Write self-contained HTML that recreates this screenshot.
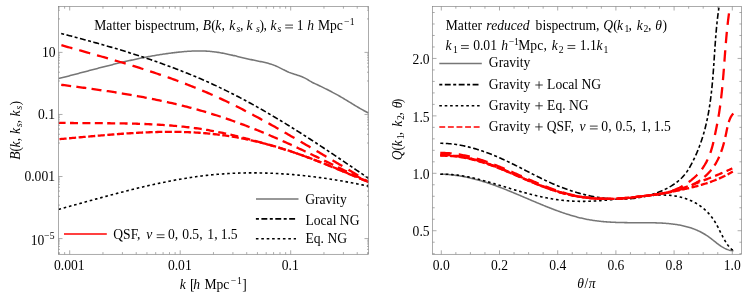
<!DOCTYPE html>
<html><head><meta charset="utf-8"><title>Bispectrum</title>
<style>html,body{margin:0;padding:0;background:#fff}body{width:747px;height:306px;overflow:hidden;font-family:"Liberation Serif",serif}</style></head>
<body>
<svg width="747" height="306" viewBox="0 0 747 306" style="display:block">
<rect width="747" height="306" fill="#fff"/>
<defs>
<clipPath id="cl"><rect x="58.5" y="6.5" width="310.0" height="247.8"/></clipPath>
<clipPath id="cr"><rect x="432.5" y="6.5" width="309.1" height="247.8"/></clipPath>
</defs>
<g clip-path="url(#cl)">
<path d="M58.50,78.60 L59.56,78.33 L60.62,78.06 L61.68,77.79 L62.74,77.52 L63.80,77.25 L64.86,76.98 L65.92,76.70 L66.97,76.43 L68.03,76.15 L69.09,75.88 L70.15,75.60 L71.21,75.33 L72.26,75.05 L73.32,74.77 L74.38,74.50 L75.44,74.22 L76.49,73.94 L77.55,73.66 L78.61,73.39 L79.66,73.11 L80.72,72.83 L81.78,72.55 L82.83,72.27 L83.89,71.99 L84.95,71.72 L86.00,71.44 L87.06,71.16 L88.11,70.88 L89.17,70.60 L90.23,70.33 L91.28,70.05 L92.34,69.77 L93.40,69.50 L94.45,69.22 L95.51,68.94 L96.57,68.67 L97.62,68.39 L98.68,68.12 L99.74,67.85 L100.80,67.58 L101.85,67.30 L102.91,67.03 L103.97,66.76 L105.02,66.49 L106.08,66.22 L107.14,65.96 L108.20,65.69 L109.26,65.42 L110.32,65.16 L111.37,64.89 L112.43,64.63 L113.49,64.37 L114.55,64.11 L115.61,63.85 L116.67,63.59 L117.73,63.33 L118.79,63.08 L119.85,62.83 L120.91,62.57 L121.98,62.32 L123.04,62.07 L124.10,61.82 L125.16,61.58 L126.22,61.33 L127.29,61.09 L128.35,60.85 L129.41,60.61 L130.48,60.37 L131.54,60.13 L132.61,59.90 L133.67,59.67 L134.74,59.44 L135.80,59.21 L136.87,58.98 L137.94,58.76 L139.01,58.53 L140.07,58.31 L141.14,58.09 L142.21,57.88 L143.28,57.66 L144.35,57.45 L145.42,57.24 L146.49,57.04 L147.56,56.83 L148.64,56.63 L149.71,56.43 L150.78,56.23 L151.85,56.04 L152.93,55.85 L154.00,55.66 L155.08,55.47 L156.16,55.29 L157.23,55.11 L158.31,54.93 L159.39,54.75 L160.47,54.58 L161.55,54.41 L162.63,54.24 L163.71,54.08 L164.79,53.92 L165.87,53.76 L166.95,53.61 L168.04,53.46 L169.12,53.31 L170.21,53.16 L171.29,53.02 L172.38,52.88 L173.46,52.75 L174.55,52.62 L175.64,52.49 L176.73,52.36 L177.82,52.24 L178.91,52.12 L180.00,52.01 L181.10,51.90 L182.19,51.80 L183.28,51.70 L184.38,51.60 L185.47,51.51 L186.57,51.43 L187.66,51.35 L188.76,51.28 L189.85,51.21 L190.94,51.15 L192.04,51.10 L193.13,51.05 L194.23,51.01 L195.32,50.98 L196.42,50.95 L197.51,50.94 L198.60,50.93 L199.69,50.93 L200.79,50.93 L201.88,50.95 L202.97,50.98 L204.06,51.01 L205.14,51.06 L206.23,51.11 L207.32,51.18 L208.40,51.25 L209.49,51.34 L210.57,51.44 L211.65,51.54 L212.73,51.66 L213.81,51.79 L214.89,51.93 L215.96,52.07 L217.04,52.23 L218.11,52.39 L219.19,52.57 L220.26,52.75 L221.33,52.93 L222.40,53.13 L223.47,53.33 L224.54,53.54 L225.61,53.75 L226.68,53.97 L227.75,54.19 L228.81,54.42 L229.88,54.66 L230.95,54.89 L232.01,55.13 L233.08,55.38 L234.14,55.62 L235.21,55.87 L236.27,56.12 L237.34,56.38 L238.40,56.63 L239.47,56.88 L240.53,57.14 L241.60,57.40 L242.66,57.65 L243.73,57.90 L244.79,58.16 L245.86,58.41 L246.92,58.66 L247.99,58.91 L249.06,59.15 L250.12,59.39 L251.19,59.63 L252.26,59.87 L253.33,60.10 L254.40,60.32 L255.47,60.55 L256.54,60.76 L257.61,60.98 L258.68,61.19 L259.75,61.41 L260.82,61.62 L261.89,61.85 L262.95,62.07 L264.01,62.31 L265.07,62.55 L266.13,62.80 L267.18,63.07 L268.23,63.35 L269.27,63.64 L270.31,63.96 L271.34,64.29 L272.37,64.63 L273.39,65.00 L274.41,65.39 L275.41,65.79 L276.41,66.21 L277.41,66.66 L278.39,67.12 L279.37,67.60 L280.35,68.08 L281.33,68.58 L282.30,69.07 L283.27,69.57 L284.25,70.06 L285.22,70.55 L286.21,71.02 L287.19,71.49 L288.19,71.93 L289.19,72.35 L290.20,72.74 L291.22,73.12 L292.25,73.48 L293.28,73.82 L294.31,74.16 L295.35,74.49 L296.38,74.82 L297.41,75.15 L298.44,75.49 L299.47,75.84 L300.49,76.20 L301.50,76.58 L302.50,76.99 L303.49,77.42 L304.46,77.88 L305.43,78.37 L306.38,78.90 L307.32,79.45 L308.25,80.01 L309.18,80.57 L310.12,81.14 L311.06,81.68 L312.01,82.21 L312.98,82.71 L313.95,83.20 L314.93,83.67 L315.91,84.13 L316.90,84.58 L317.89,85.03 L318.88,85.48 L319.87,85.94 L320.85,86.41 L321.83,86.88 L322.81,87.36 L323.78,87.84 L324.75,88.33 L325.73,88.82 L326.70,89.31 L327.67,89.81 L328.64,90.31 L329.61,90.81 L330.58,91.31 L331.55,91.81 L332.52,92.32 L333.49,92.83 L334.45,93.34 L335.42,93.85 L336.38,94.37 L337.34,94.90 L338.29,95.43 L339.24,95.97 L340.19,96.51 L341.14,97.06 L342.08,97.61 L343.02,98.17 L343.96,98.73 L344.89,99.29 L345.83,99.85 L346.76,100.42 L347.69,100.99 L348.62,101.56 L349.55,102.13 L350.48,102.70 L351.42,103.27 L352.35,103.84 L353.28,104.41 L354.21,104.98 L355.14,105.54 L356.08,106.11 L357.02,106.67 L357.96,107.22 L358.90,107.78 L359.84,108.33 L360.79,108.87 L361.74,109.41 L362.69,109.94 L363.65,110.47 L364.61,110.99 L365.58,111.51 L366.55,112.01 L367.52,112.51 L368.50,113.00" fill="none" stroke="#767676" stroke-width="1.55"/>
<path d="M58.50,209.40 L60.02,208.99 L61.54,208.57 L63.06,208.16 L64.58,207.74 L66.10,207.32 L67.62,206.90 L69.15,206.48 L70.67,206.06 L72.19,205.64 L73.71,205.22 L75.24,204.80 L76.76,204.38 L78.29,203.95 L79.81,203.53 L81.34,203.11 L82.86,202.68 L84.39,202.26 L85.91,201.84 L87.44,201.41 L88.97,200.99 L90.50,200.57 L92.02,200.15 L93.55,199.73 L95.08,199.31 L96.61,198.88 L98.14,198.47 L99.67,198.05 L101.20,197.63 L102.73,197.21 L104.27,196.80 L105.80,196.38 L107.33,195.97 L108.86,195.55 L110.40,195.14 L111.93,194.73 L113.47,194.33 L115.00,193.92 L116.54,193.51 L118.07,193.11 L119.61,192.71 L121.15,192.31 L122.69,191.91 L124.22,191.51 L125.76,191.12 L127.30,190.73 L128.84,190.34 L130.38,189.95 L131.92,189.57 L133.46,189.18 L135.00,188.80 L136.55,188.43 L138.09,188.05 L139.63,187.68 L141.18,187.31 L142.72,186.95 L144.27,186.58 L145.81,186.22 L147.36,185.87 L148.90,185.51 L150.45,185.16 L152.00,184.82 L153.55,184.47 L155.09,184.13 L156.64,183.80 L158.19,183.46 L159.74,183.13 L161.29,182.81 L162.84,182.49 L164.40,182.17 L165.95,181.86 L167.50,181.55 L169.06,181.25 L170.61,180.94 L172.16,180.65 L173.72,180.36 L175.27,180.07 L176.83,179.79 L178.39,179.51 L179.95,179.24 L181.50,178.97 L183.06,178.71 L184.62,178.45 L186.18,178.19 L187.74,177.95 L189.30,177.70 L190.86,177.47 L192.43,177.23 L193.99,177.01 L195.55,176.79 L197.12,176.57 L198.68,176.36 L200.25,176.16 L201.81,175.96 L203.38,175.76 L204.95,175.58 L206.52,175.40 L208.08,175.22 L209.65,175.06 L211.22,174.89 L212.79,174.74 L214.36,174.59 L215.94,174.45 L217.51,174.31 L219.08,174.18 L220.65,174.06 L222.23,173.94 L223.80,173.83 L225.38,173.72 L226.95,173.62 L228.53,173.53 L230.10,173.45 L231.68,173.37 L233.26,173.29 L234.84,173.22 L236.41,173.16 L237.99,173.10 L239.57,173.05 L241.15,173.01 L242.73,172.97 L244.31,172.94 L245.89,172.91 L247.47,172.89 L249.05,172.87 L250.63,172.87 L252.21,172.86 L253.79,172.86 L255.37,172.87 L256.95,172.88 L258.53,172.90 L260.12,172.93 L261.70,172.96 L263.28,172.99 L264.86,173.03 L266.44,173.08 L268.03,173.13 L269.61,173.18 L271.19,173.25 L272.77,173.31 L274.35,173.39 L275.93,173.46 L277.52,173.55 L279.10,173.64 L280.68,173.73 L282.26,173.83 L283.84,173.93 L285.42,174.04 L287.00,174.15 L288.58,174.27 L290.16,174.39 L291.74,174.52 L293.32,174.66 L294.90,174.79 L296.48,174.94 L298.06,175.08 L299.64,175.24 L301.22,175.39 L302.80,175.56 L304.37,175.72 L305.95,175.89 L307.53,176.07 L309.10,176.25 L310.68,176.44 L312.26,176.63 L313.83,176.82 L315.40,177.02 L316.98,177.22 L318.55,177.43 L320.12,177.64 L321.70,177.86 L323.27,178.08 L324.84,178.30 L326.41,178.53 L327.98,178.76 L329.55,179.00 L331.12,179.24 L332.68,179.49 L334.25,179.74 L335.82,179.99 L337.38,180.25 L338.95,180.51 L340.51,180.78 L342.07,181.05 L343.63,181.32 L345.20,181.60 L346.76,181.88 L348.32,182.16 L349.87,182.45 L351.43,182.75 L352.99,183.04 L354.54,183.34 L356.10,183.65 L357.65,183.95 L359.21,184.26 L360.76,184.58 L362.31,184.90 L363.86,185.22 L365.41,185.54 L366.95,185.87 L368.50,186.20" fill="none" stroke="#000" stroke-width="1.6" stroke-dasharray="2.6 2.8" stroke-dashoffset="0"/>
<path d="M61.20,33.50 L62.86,33.93 L64.52,34.36 L66.18,34.80 L67.84,35.23 L69.50,35.67 L71.16,36.10 L72.82,36.54 L74.48,36.98 L76.14,37.42 L77.80,37.87 L79.46,38.31 L81.12,38.76 L82.78,39.21 L84.44,39.66 L86.10,40.11 L87.76,40.57 L89.42,41.02 L91.07,41.48 L92.73,41.94 L94.39,42.40 L96.05,42.86 L97.70,43.33 L99.36,43.80 L101.02,44.27 L102.67,44.74 L104.33,45.22 L105.98,45.69 L107.63,46.17 L109.29,46.65 L110.94,47.14 L112.59,47.62 L114.24,48.11 L115.89,48.60 L117.54,49.10 L119.19,49.59 L120.84,50.09 L122.49,50.60 L124.13,51.10 L125.78,51.61 L127.42,52.12 L129.07,52.63 L130.71,53.15 L132.35,53.66 L133.99,54.19 L135.63,54.71 L137.27,55.24 L138.91,55.77 L140.55,56.30 L142.18,56.84 L143.82,57.38 L145.45,57.92 L147.08,58.47 L148.72,59.02 L150.35,59.58 L151.97,60.13 L153.60,60.69 L155.23,61.26 L156.85,61.82 L158.47,62.39 L160.10,62.97 L161.72,63.55 L163.34,64.13 L164.95,64.71 L166.57,65.30 L168.18,65.90 L169.80,66.49 L171.41,67.09 L173.02,67.70 L174.63,68.31 L176.23,68.92 L177.84,69.54 L179.44,70.16 L181.04,70.78 L182.64,71.41 L184.24,72.04 L185.83,72.68 L187.43,73.32 L189.02,73.97 L190.61,74.62 L192.20,75.27 L193.79,75.93 L195.37,76.60 L196.95,77.26 L198.53,77.94 L200.11,78.61 L201.69,79.30 L203.26,79.98 L204.83,80.67 L206.40,81.37 L207.97,82.07 L209.54,82.78 L211.10,83.49 L212.66,84.20 L214.22,84.92 L215.78,85.65 L217.33,86.38 L218.88,87.11 L220.43,87.85 L221.98,88.60 L223.53,89.35 L225.07,90.10 L226.61,90.86 L228.15,91.62 L229.69,92.39 L231.22,93.16 L232.76,93.93 L234.29,94.71 L235.82,95.50 L237.34,96.29 L238.87,97.08 L240.39,97.88 L241.91,98.68 L243.43,99.48 L244.95,100.29 L246.46,101.10 L247.97,101.92 L249.48,102.74 L250.99,103.56 L252.50,104.39 L254.00,105.22 L255.51,106.06 L257.01,106.90 L258.51,107.74 L260.01,108.58 L261.50,109.43 L263.00,110.28 L264.49,111.14 L265.98,112.00 L267.47,112.86 L268.95,113.72 L270.44,114.59 L271.92,115.46 L273.40,116.34 L274.89,117.22 L276.36,118.10 L277.84,118.98 L279.32,119.87 L280.79,120.75 L282.26,121.65 L283.73,122.54 L285.20,123.44 L286.67,124.34 L288.13,125.24 L289.60,126.14 L291.06,127.05 L292.52,127.96 L293.98,128.87 L295.44,129.78 L296.90,130.70 L298.35,131.62 L299.81,132.54 L301.26,133.46 L302.71,134.38 L304.17,135.31 L305.62,136.24 L307.06,137.17 L308.51,138.10 L309.96,139.03 L311.40,139.97 L312.85,140.91 L314.29,141.85 L315.73,142.79 L317.17,143.73 L318.61,144.67 L320.05,145.62 L321.49,146.57 L322.92,147.51 L324.36,148.46 L325.79,149.42 L327.23,150.37 L328.66,151.32 L330.09,152.27 L331.52,153.23 L332.95,154.19 L334.38,155.14 L335.81,156.10 L337.24,157.06 L338.66,158.02 L340.09,158.98 L341.52,159.95 L342.94,160.91 L344.37,161.87 L345.79,162.83 L347.21,163.80 L348.63,164.76 L350.06,165.73 L351.48,166.69 L352.90,167.66 L354.32,168.63 L355.74,169.59 L357.16,170.56 L358.58,171.53 L360.00,172.50 L361.41,173.46 L362.83,174.43 L364.25,175.40 L365.67,176.37 L367.08,177.33 L368.50,178.30" fill="none" stroke="#000" stroke-width="1.6" stroke-dasharray="3 2.5 5.9 2.5" stroke-dashoffset="0"/>
<path d="M58.50,139.20 L60.08,139.07 L61.66,138.94 L63.24,138.80 L64.82,138.67 L66.40,138.53 L67.98,138.39 L69.56,138.25 L71.15,138.11 L72.73,137.97 L74.32,137.83 L75.90,137.69 L77.49,137.54 L79.08,137.40 L80.67,137.26 L82.26,137.12 L83.85,136.97 L85.44,136.83 L87.03,136.69 L88.63,136.54 L90.22,136.40 L91.81,136.26 L93.41,136.12 L95.01,135.98 L96.60,135.84 L98.20,135.70 L99.80,135.56 L101.39,135.42 L102.99,135.28 L104.59,135.15 L106.19,135.01 L107.79,134.88 L109.39,134.75 L110.99,134.62 L112.59,134.49 L114.19,134.37 L115.79,134.24 L117.39,134.12 L119.00,134.00 L120.60,133.88 L122.20,133.77 L123.81,133.65 L125.41,133.54 L127.01,133.43 L128.62,133.33 L130.22,133.23 L131.82,133.12 L133.43,133.03 L135.03,132.93 L136.64,132.84 L138.24,132.75 L139.84,132.67 L141.45,132.59 L143.05,132.51 L144.66,132.44 L146.26,132.37 L147.87,132.30 L149.47,132.24 L151.07,132.18 L152.68,132.13 L154.28,132.08 L155.89,132.03 L157.49,131.99 L159.09,131.95 L160.70,131.92 L162.30,131.89 L163.90,131.87 L165.50,131.85 L167.11,131.84 L168.71,131.83 L170.31,131.83 L171.91,131.83 L173.51,131.84 L175.11,131.85 L176.71,131.87 L178.31,131.89 L179.91,131.92 L181.51,131.96 L183.11,132.00 L184.70,132.05 L186.30,132.11 L187.90,132.17 L189.49,132.23 L191.09,132.31 L192.68,132.39 L194.28,132.47 L195.87,132.57 L197.46,132.67 L199.06,132.77 L200.65,132.89 L202.24,133.01 L203.83,133.14 L205.42,133.27 L207.00,133.42 L208.59,133.57 L210.18,133.72 L211.76,133.89 L213.35,134.06 L214.93,134.24 L216.51,134.43 L218.10,134.62 L219.68,134.82 L221.26,135.03 L222.84,135.24 L224.41,135.46 L225.99,135.69 L227.57,135.93 L229.14,136.17 L230.72,136.42 L232.29,136.68 L233.86,136.94 L235.43,137.21 L237.00,137.49 L238.57,137.78 L240.14,138.07 L241.70,138.37 L243.27,138.67 L244.83,138.99 L246.39,139.31 L247.95,139.63 L249.51,139.97 L251.07,140.31 L252.63,140.65 L254.19,141.01 L255.74,141.37 L257.29,141.74 L258.84,142.11 L260.39,142.49 L261.94,142.88 L263.49,143.28 L265.04,143.68 L266.58,144.08 L268.12,144.50 L269.67,144.92 L271.21,145.35 L272.74,145.78 L274.28,146.22 L275.82,146.67 L277.35,147.12 L278.88,147.58 L280.41,148.05 L281.94,148.52 L283.47,149.00 L285.00,149.48 L286.52,149.97 L288.05,150.46 L289.57,150.96 L291.09,151.46 L292.61,151.97 L294.13,152.48 L295.64,153.00 L297.16,153.52 L298.67,154.05 L300.19,154.58 L301.70,155.12 L303.21,155.66 L304.72,156.21 L306.23,156.75 L307.73,157.31 L309.24,157.86 L310.74,158.42 L312.24,158.99 L313.74,159.56 L315.24,160.13 L316.74,160.70 L318.24,161.28 L319.74,161.86 L321.23,162.44 L322.73,163.03 L324.22,163.62 L325.71,164.21 L327.20,164.80 L328.69,165.40 L330.18,166.00 L331.67,166.60 L333.15,167.20 L334.64,167.81 L336.12,168.41 L337.60,169.02 L339.08,169.63 L340.56,170.24 L342.04,170.86 L343.52,171.47 L345.00,172.09 L346.48,172.70 L347.95,173.32 L349.42,173.94 L350.90,174.56 L352.37,175.18 L353.84,175.80 L355.31,176.42 L356.78,177.04 L358.25,177.66 L359.71,178.28 L361.18,178.90 L362.65,179.52 L364.11,180.14 L365.57,180.76 L367.04,181.38 L368.50,182.00" fill="none" stroke="#ff0000" stroke-width="2.3" stroke-dasharray="7.1 2.5" stroke-dashoffset="-1"/>
<path d="M58.50,122.80 L60.10,122.83 L61.69,122.86 L63.29,122.89 L64.89,122.91 L66.49,122.94 L68.09,122.96 L69.69,122.98 L71.29,123.00 L72.89,123.02 L74.49,123.03 L76.09,123.05 L77.69,123.06 L79.30,123.08 L80.90,123.09 L82.50,123.10 L84.10,123.11 L85.71,123.12 L87.31,123.13 L88.92,123.14 L90.52,123.15 L92.12,123.16 L93.73,123.17 L95.33,123.18 L96.94,123.18 L98.54,123.19 L100.15,123.20 L101.75,123.21 L103.36,123.22 L104.97,123.24 L106.57,123.25 L108.18,123.26 L109.78,123.27 L111.39,123.29 L112.99,123.30 L114.60,123.32 L116.21,123.34 L117.81,123.36 L119.42,123.38 L121.02,123.41 L122.63,123.43 L124.23,123.46 L125.84,123.49 L127.44,123.52 L129.05,123.55 L130.65,123.59 L132.26,123.62 L133.86,123.66 L135.47,123.71 L137.07,123.75 L138.68,123.80 L140.28,123.85 L141.88,123.91 L143.48,123.96 L145.09,124.02 L146.69,124.09 L148.29,124.16 L149.89,124.23 L151.49,124.30 L153.10,124.38 L154.70,124.46 L156.30,124.55 L157.90,124.64 L159.49,124.73 L161.09,124.83 L162.69,124.93 L164.29,125.04 L165.89,125.15 L167.48,125.26 L169.08,125.38 L170.67,125.51 L172.27,125.64 L173.86,125.78 L175.46,125.92 L177.05,126.06 L178.64,126.21 L180.23,126.37 L181.83,126.53 L183.42,126.70 L185.00,126.87 L186.59,127.05 L188.18,127.24 L189.77,127.43 L191.36,127.63 L192.94,127.83 L194.53,128.04 L196.11,128.26 L197.69,128.48 L199.28,128.71 L200.86,128.94 L202.44,129.19 L204.02,129.44 L205.60,129.70 L207.17,129.96 L208.75,130.23 L210.33,130.51 L211.90,130.80 L213.48,131.09 L215.05,131.39 L216.62,131.70 L218.19,132.01 L219.76,132.33 L221.33,132.65 L222.90,132.98 L224.47,133.32 L226.03,133.66 L227.60,134.01 L229.16,134.37 L230.73,134.73 L232.29,135.09 L233.85,135.46 L235.41,135.83 L236.97,136.21 L238.53,136.60 L240.09,136.98 L241.65,137.37 L243.21,137.77 L244.76,138.17 L246.32,138.57 L247.87,138.98 L249.43,139.39 L250.98,139.80 L252.53,140.22 L254.08,140.64 L255.63,141.06 L257.18,141.49 L258.73,141.91 L260.28,142.34 L261.82,142.78 L263.37,143.21 L264.92,143.65 L266.46,144.08 L268.00,144.52 L269.55,144.97 L271.09,145.41 L272.63,145.85 L274.17,146.30 L275.71,146.75 L277.25,147.20 L278.78,147.66 L280.32,148.12 L281.85,148.59 L283.38,149.06 L284.91,149.53 L286.44,150.01 L287.96,150.50 L289.49,150.99 L291.01,151.49 L292.53,151.99 L294.04,152.50 L295.56,153.02 L297.07,153.54 L298.58,154.07 L300.09,154.60 L301.60,155.14 L303.10,155.68 L304.61,156.23 L306.11,156.78 L307.61,157.34 L309.11,157.90 L310.60,158.46 L312.10,159.03 L313.60,159.60 L315.09,160.18 L316.58,160.76 L318.07,161.34 L319.56,161.93 L321.05,162.52 L322.54,163.11 L324.03,163.71 L325.51,164.30 L327.00,164.90 L328.48,165.50 L329.97,166.11 L331.45,166.71 L332.93,167.32 L334.41,167.93 L335.90,168.54 L337.38,169.15 L338.86,169.77 L340.34,170.38 L341.82,170.99 L343.30,171.61 L344.78,172.23 L346.26,172.84 L347.74,173.46 L349.22,174.07 L350.70,174.69 L352.18,175.30 L353.66,175.92 L355.14,176.53 L356.63,177.15 L358.11,177.76 L359.59,178.37 L361.07,178.98 L362.56,179.59 L364.04,180.19 L365.53,180.80 L367.01,181.40 L368.50,182.00" fill="none" stroke="#ff0000" stroke-width="2.3" stroke-dasharray="8 4.4" stroke-dashoffset="0.9"/>
<path d="M61.20,84.80 L62.81,85.01 L64.43,85.21 L66.04,85.42 L67.66,85.63 L69.28,85.84 L70.89,86.04 L72.51,86.25 L74.13,86.47 L75.74,86.68 L77.36,86.89 L78.98,87.11 L80.59,87.32 L82.21,87.54 L83.83,87.76 L85.45,87.98 L87.06,88.20 L88.68,88.42 L90.30,88.65 L91.91,88.87 L93.53,89.10 L95.15,89.33 L96.77,89.56 L98.38,89.79 L100.00,90.03 L101.62,90.27 L103.23,90.50 L104.85,90.74 L106.46,90.99 L108.08,91.23 L109.70,91.48 L111.31,91.73 L112.93,91.98 L114.54,92.23 L116.15,92.49 L117.77,92.74 L119.38,93.00 L121.00,93.27 L122.61,93.53 L124.22,93.80 L125.83,94.07 L127.44,94.34 L129.05,94.62 L130.66,94.90 L132.27,95.18 L133.88,95.46 L135.49,95.75 L137.10,96.04 L138.71,96.33 L140.31,96.63 L141.92,96.93 L143.52,97.23 L145.13,97.53 L146.73,97.84 L148.33,98.15 L149.94,98.47 L151.54,98.78 L153.14,99.10 L154.74,99.43 L156.34,99.76 L157.93,100.09 L159.53,100.42 L161.13,100.76 L162.72,101.11 L164.32,101.45 L165.91,101.80 L167.50,102.16 L169.09,102.51 L170.68,102.88 L172.27,103.24 L173.86,103.61 L175.45,103.98 L177.03,104.36 L178.62,104.74 L180.20,105.13 L181.78,105.52 L183.37,105.92 L184.95,106.31 L186.52,106.72 L188.10,107.13 L189.68,107.54 L191.25,107.95 L192.82,108.38 L194.40,108.80 L195.97,109.23 L197.54,109.67 L199.10,110.11 L200.67,110.55 L202.24,111.00 L203.80,111.46 L205.36,111.92 L206.92,112.38 L208.48,112.85 L210.04,113.33 L211.59,113.80 L213.15,114.29 L214.70,114.78 L216.25,115.27 L217.80,115.77 L219.35,116.28 L220.90,116.78 L222.44,117.30 L223.99,117.82 L225.53,118.34 L227.07,118.87 L228.61,119.40 L230.15,119.93 L231.68,120.47 L233.22,121.02 L234.75,121.57 L236.28,122.12 L237.81,122.68 L239.34,123.24 L240.87,123.81 L242.40,124.38 L243.92,124.95 L245.45,125.53 L246.97,126.11 L248.49,126.70 L250.01,127.29 L251.53,127.88 L253.04,128.48 L254.56,129.08 L256.07,129.69 L257.58,130.30 L259.10,130.91 L260.61,131.53 L262.11,132.15 L263.62,132.77 L265.13,133.40 L266.63,134.03 L268.14,134.67 L269.64,135.30 L271.14,135.95 L272.64,136.59 L274.14,137.24 L275.63,137.89 L277.13,138.54 L278.62,139.20 L280.12,139.86 L281.61,140.52 L283.10,141.19 L284.59,141.86 L286.08,142.53 L287.57,143.20 L289.05,143.88 L290.54,144.56 L292.02,145.24 L293.51,145.92 L294.99,146.61 L296.47,147.30 L297.95,147.99 L299.43,148.68 L300.91,149.37 L302.39,150.07 L303.87,150.77 L305.34,151.46 L306.82,152.17 L308.30,152.87 L309.77,153.57 L311.24,154.28 L312.72,154.98 L314.19,155.69 L315.66,156.40 L317.13,157.11 L318.61,157.82 L320.08,158.53 L321.55,159.24 L323.02,159.96 L324.49,160.67 L325.95,161.38 L327.42,162.10 L328.89,162.81 L330.36,163.53 L331.83,164.25 L333.29,164.96 L334.76,165.68 L336.23,166.39 L337.69,167.11 L339.16,167.83 L340.63,168.54 L342.09,169.26 L343.56,169.97 L345.03,170.69 L346.49,171.40 L347.96,172.12 L349.42,172.83 L350.89,173.54 L352.36,174.25 L353.82,174.96 L355.29,175.67 L356.76,176.38 L358.22,177.09 L359.69,177.79 L361.16,178.50 L362.63,179.20 L364.09,179.90 L365.56,180.60 L367.03,181.30 L368.50,182.00" fill="none" stroke="#ff0000" stroke-width="2.3" stroke-dasharray="10 5.3" stroke-dashoffset="0"/>
<path d="M61.40,45.20 L63.03,45.66 L64.66,46.12 L66.29,46.58 L67.92,47.04 L69.55,47.49 L71.18,47.95 L72.81,48.41 L74.44,48.87 L76.08,49.33 L77.71,49.79 L79.34,50.25 L80.97,50.71 L82.61,51.17 L84.24,51.63 L85.87,52.09 L87.51,52.55 L89.14,53.01 L90.78,53.47 L92.41,53.94 L94.04,54.40 L95.68,54.87 L97.31,55.33 L98.95,55.80 L100.58,56.27 L102.21,56.74 L103.85,57.21 L105.48,57.68 L107.11,58.15 L108.75,58.62 L110.38,59.10 L112.01,59.58 L113.64,60.06 L115.27,60.54 L116.90,61.02 L118.53,61.50 L120.16,61.99 L121.79,62.47 L123.42,62.96 L125.05,63.45 L126.68,63.94 L128.31,64.44 L129.93,64.94 L131.56,65.44 L133.18,65.94 L134.81,66.44 L136.43,66.95 L138.05,67.45 L139.68,67.96 L141.30,68.48 L142.92,68.99 L144.54,69.51 L146.16,70.03 L147.77,70.56 L149.39,71.08 L151.00,71.61 L152.62,72.15 L154.23,72.68 L155.84,73.22 L157.45,73.76 L159.06,74.31 L160.67,74.85 L162.28,75.41 L163.89,75.96 L165.49,76.52 L167.09,77.08 L168.69,77.65 L170.29,78.21 L171.89,78.79 L173.49,79.36 L175.09,79.94 L176.68,80.53 L178.27,81.11 L179.87,81.71 L181.45,82.30 L183.04,82.90 L184.63,83.50 L186.21,84.11 L187.80,84.72 L189.38,85.34 L190.96,85.96 L192.53,86.59 L194.11,87.22 L195.68,87.85 L197.25,88.49 L198.82,89.13 L200.39,89.78 L201.96,90.43 L203.52,91.09 L205.08,91.75 L206.64,92.42 L208.20,93.09 L209.75,93.77 L211.31,94.45 L212.86,95.14 L214.41,95.83 L215.95,96.53 L217.50,97.23 L219.04,97.94 L220.58,98.66 L222.12,99.37 L223.65,100.10 L225.19,100.82 L226.72,101.56 L228.25,102.29 L229.77,103.03 L231.30,103.78 L232.82,104.53 L234.35,105.28 L235.87,106.04 L237.38,106.80 L238.90,107.56 L240.42,108.33 L241.93,109.10 L243.44,109.88 L244.95,110.66 L246.46,111.44 L247.96,112.23 L249.47,113.02 L250.97,113.81 L252.47,114.61 L253.97,115.41 L255.47,116.21 L256.97,117.01 L258.47,117.82 L259.96,118.63 L261.45,119.44 L262.95,120.26 L264.44,121.08 L265.93,121.90 L267.41,122.72 L268.90,123.55 L270.39,124.37 L271.87,125.20 L273.36,126.03 L274.84,126.87 L276.32,127.70 L277.80,128.54 L279.28,129.37 L280.76,130.21 L282.23,131.05 L283.71,131.90 L285.19,132.74 L286.66,133.58 L288.14,134.43 L289.61,135.28 L291.08,136.13 L292.55,136.97 L294.02,137.82 L295.49,138.67 L296.96,139.52 L298.43,140.38 L299.90,141.23 L301.37,142.08 L302.84,142.94 L304.30,143.79 L305.77,144.65 L307.24,145.50 L308.70,146.36 L310.17,147.21 L311.63,148.07 L313.10,148.93 L314.56,149.78 L316.03,150.64 L317.49,151.50 L318.95,152.36 L320.42,153.22 L321.88,154.07 L323.35,154.93 L324.81,155.79 L326.28,156.65 L327.74,157.51 L329.20,158.37 L330.67,159.22 L332.13,160.08 L333.60,160.94 L335.06,161.80 L336.52,162.66 L337.99,163.52 L339.45,164.39 L340.91,165.25 L342.38,166.11 L343.84,166.98 L345.30,167.85 L346.76,168.71 L348.22,169.58 L349.67,170.46 L351.13,171.33 L352.59,172.20 L354.04,173.08 L355.49,173.96 L356.94,174.84 L358.39,175.73 L359.84,176.61 L361.29,177.50 L362.74,178.40 L364.18,179.29 L365.62,180.19 L367.06,181.09 L368.50,182.00" fill="none" stroke="#ff0000" stroke-width="2.3" stroke-dasharray="11.4 7.1" stroke-dashoffset="0"/>
</g>
<g clip-path="url(#cr)">
<path d="M440.30,174.20 L441.36,174.22 L442.41,174.25 L443.46,174.28 L444.51,174.33 L445.56,174.38 L446.60,174.44 L447.64,174.51 L448.68,174.59 L449.72,174.68 L450.75,174.77 L451.78,174.87 L452.81,174.98 L453.84,175.10 L454.86,175.23 L455.89,175.36 L456.91,175.50 L457.92,175.65 L458.94,175.80 L459.95,175.96 L460.97,176.13 L461.98,176.30 L462.98,176.49 L463.99,176.68 L465.00,176.87 L466.00,177.07 L467.00,177.28 L468.00,177.49 L468.99,177.71 L469.99,177.94 L470.98,178.17 L471.97,178.41 L472.97,178.65 L473.95,178.90 L474.94,179.16 L475.93,179.42 L476.91,179.68 L477.89,179.96 L478.87,180.23 L479.85,180.51 L480.83,180.80 L481.81,181.09 L482.79,181.39 L483.76,181.69 L484.73,181.99 L485.71,182.30 L486.68,182.61 L487.65,182.93 L488.61,183.25 L489.58,183.58 L490.55,183.91 L491.51,184.24 L492.48,184.58 L493.44,184.92 L494.41,185.27 L495.37,185.62 L496.33,185.97 L497.29,186.32 L498.25,186.68 L499.21,187.04 L500.17,187.41 L501.12,187.77 L502.08,188.14 L503.04,188.52 L503.99,188.89 L504.95,189.27 L505.90,189.65 L506.86,190.03 L507.81,190.42 L508.76,190.80 L509.72,191.19 L510.67,191.58 L511.62,191.97 L512.57,192.37 L513.52,192.76 L514.48,193.16 L515.43,193.55 L516.38,193.95 L517.33,194.35 L518.28,194.76 L519.23,195.16 L520.18,195.56 L521.13,195.97 L522.08,196.37 L523.04,196.78 L523.99,197.18 L524.94,197.59 L525.89,197.99 L526.84,198.40 L527.80,198.81 L528.75,199.21 L529.70,199.62 L530.65,200.03 L531.61,200.43 L532.56,200.84 L533.52,201.24 L534.47,201.65 L535.43,202.05 L536.38,202.45 L537.34,202.85 L538.30,203.25 L539.26,203.65 L540.21,204.05 L541.17,204.45 L542.13,204.84 L543.10,205.24 L544.06,205.63 L545.02,206.02 L545.98,206.41 L546.95,206.80 L547.91,207.18 L548.88,207.56 L549.85,207.94 L550.82,208.32 L551.78,208.70 L552.76,209.07 L553.73,209.44 L554.70,209.81 L555.67,210.17 L556.64,210.53 L557.62,210.89 L558.59,211.24 L559.57,211.59 L560.55,211.94 L561.53,212.28 L562.51,212.62 L563.49,212.95 L564.47,213.28 L565.45,213.61 L566.43,213.93 L567.42,214.25 L568.40,214.56 L569.38,214.86 L570.37,215.17 L571.36,215.46 L572.35,215.75 L573.33,216.04 L574.32,216.32 L575.31,216.59 L576.31,216.86 L577.30,217.13 L578.29,217.38 L579.28,217.63 L580.28,217.88 L581.28,218.11 L582.27,218.34 L583.27,218.57 L584.27,218.79 L585.27,219.00 L586.26,219.20 L587.27,219.40 L588.27,219.59 L589.27,219.77 L590.27,219.94 L591.28,220.11 L592.28,220.27 L593.28,220.42 L594.29,220.57 L595.30,220.71 L596.31,220.84 L597.31,220.97 L598.32,221.09 L599.33,221.21 L600.34,221.32 L601.36,221.42 L602.37,221.52 L603.38,221.61 L604.40,221.70 L605.41,221.78 L606.43,221.86 L607.44,221.94 L608.46,222.00 L609.48,222.07 L610.50,222.13 L611.52,222.19 L612.54,222.24 L613.56,222.29 L614.58,222.33 L615.60,222.37 L616.63,222.41 L617.65,222.45 L618.68,222.48 L619.70,222.51 L620.73,222.53 L621.76,222.56 L622.78,222.58 L623.81,222.59 L624.84,222.61 L625.87,222.63 L626.90,222.64 L627.94,222.65 L628.97,222.66 L630.00,222.67 L631.04,222.67 L632.07,222.68 L633.11,222.68 L634.14,222.69 L635.18,222.69 L636.22,222.69 L637.26,222.69 L638.30,222.70 L639.34,222.70 L640.38,222.70 L641.42,222.70 L642.46,222.71 L643.51,222.71 L644.55,222.71 L645.60,222.72 L646.64,222.72 L647.69,222.73 L648.73,222.74 L649.78,222.75 L650.82,222.77 L651.87,222.78 L652.92,222.80 L653.96,222.82 L655.01,222.85 L656.05,222.88 L657.10,222.91 L658.14,222.94 L659.18,222.99 L660.22,223.03 L661.26,223.08 L662.30,223.14 L663.34,223.20 L664.38,223.26 L665.41,223.34 L666.45,223.41 L667.48,223.50 L668.51,223.59 L669.53,223.69 L670.56,223.79 L671.58,223.91 L672.61,224.03 L673.62,224.15 L674.64,224.29 L675.66,224.44 L676.67,224.59 L677.67,224.75 L678.68,224.92 L679.68,225.10 L680.68,225.29 L681.68,225.50 L682.67,225.71 L683.66,225.93 L684.64,226.16 L685.63,226.40 L686.60,226.66 L687.58,226.92 L688.55,227.20 L689.51,227.49 L690.47,227.79 L691.43,228.11 L692.38,228.44 L693.33,228.78 L694.27,229.13 L695.21,229.50 L696.15,229.88 L697.07,230.27 L698.00,230.68 L698.92,231.11 L699.83,231.55 L700.74,232.00 L701.64,232.47 L702.53,232.95 L703.42,233.45 L704.31,233.97 L705.18,234.50 L706.06,235.05 L706.92,235.62 L707.78,236.21 L708.63,236.81 L709.48,237.42 L710.32,238.06 L711.16,238.70 L711.99,239.35 L712.82,240.00 L713.65,240.66 L714.49,241.32 L715.32,241.98 L716.15,242.63 L716.98,243.28 L717.82,243.92 L718.66,244.54 L719.51,245.15 L720.37,245.74 L721.23,246.32 L722.10,246.87 L722.98,247.39 L723.86,247.89 L724.76,248.36 L725.67,248.79 L726.60,249.20 L727.53,249.56 L728.49,249.88 L729.45,250.16 L730.44,250.40 L731.44,250.58 L732.46,250.72 L733.50,250.80" fill="none" stroke="#767676" stroke-width="1.55"/>
<path d="M440.30,174.20 L441.40,174.18 L442.50,174.17 L443.60,174.18 L444.70,174.19 L445.79,174.22 L446.88,174.25 L447.97,174.30 L449.05,174.35 L450.13,174.42 L451.21,174.50 L452.29,174.58 L453.37,174.68 L454.44,174.78 L455.51,174.89 L456.58,175.02 L457.64,175.15 L458.71,175.29 L459.77,175.43 L460.83,175.59 L461.89,175.75 L462.94,175.93 L464.00,176.10 L465.05,176.29 L466.10,176.48 L467.15,176.68 L468.20,176.89 L469.24,177.10 L470.29,177.32 L471.33,177.55 L472.38,177.78 L473.42,178.01 L474.46,178.26 L475.50,178.50 L476.53,178.76 L477.57,179.01 L478.61,179.28 L479.64,179.54 L480.68,179.81 L481.71,180.09 L482.75,180.37 L483.78,180.65 L484.81,180.94 L485.84,181.22 L486.87,181.52 L487.90,181.81 L488.94,182.11 L489.97,182.41 L491.00,182.72 L492.03,183.02 L493.06,183.33 L494.09,183.64 L495.12,183.95 L496.15,184.26 L497.18,184.57 L498.21,184.89 L499.24,185.20 L500.27,185.52 L501.30,185.83 L502.33,186.15 L503.37,186.46 L504.40,186.78 L505.44,187.09 L506.47,187.41 L507.51,187.72 L508.54,188.03 L509.58,188.35 L510.62,188.66 L511.65,188.97 L512.69,189.28 L513.73,189.58 L514.77,189.89 L515.81,190.19 L516.86,190.50 L517.90,190.80 L518.94,191.10 L519.98,191.39 L521.03,191.69 L522.07,191.98 L523.12,192.27 L524.16,192.56 L525.21,192.84 L526.26,193.12 L527.30,193.40 L528.35,193.68 L529.40,193.95 L530.45,194.22 L531.50,194.49 L532.55,194.76 L533.60,195.02 L534.65,195.27 L535.70,195.52 L536.76,195.77 L537.81,196.02 L538.86,196.26 L539.92,196.50 L540.97,196.73 L542.03,196.96 L543.08,197.18 L544.14,197.40 L545.20,197.61 L546.25,197.82 L547.31,198.03 L548.37,198.23 L549.43,198.42 L550.49,198.61 L551.55,198.79 L552.61,198.97 L553.67,199.14 L554.73,199.31 L555.79,199.47 L556.85,199.62 L557.92,199.77 L558.98,199.91 L560.04,200.05 L561.11,200.18 L562.17,200.30 L563.23,200.41 L564.30,200.52 L565.36,200.63 L566.43,200.72 L567.50,200.81 L568.56,200.89 L569.63,200.96 L570.70,201.03 L571.77,201.09 L572.83,201.14 L573.90,201.19 L574.97,201.23 L576.04,201.27 L577.11,201.30 L578.18,201.32 L579.25,201.33 L580.32,201.34 L581.39,201.35 L582.46,201.35 L583.53,201.34 L584.60,201.33 L585.68,201.32 L586.75,201.29 L587.82,201.27 L588.89,201.24 L589.97,201.20 L591.04,201.16 L592.11,201.12 L593.18,201.07 L594.26,201.01 L595.33,200.96 L596.41,200.90 L597.48,200.83 L598.56,200.76 L599.63,200.69 L600.70,200.61 L601.78,200.54 L602.85,200.45 L603.93,200.37 L605.00,200.28 L606.08,200.19 L607.16,200.10 L608.23,200.00 L609.31,199.90 L610.38,199.80 L611.46,199.70 L612.53,199.59 L613.61,199.49 L614.69,199.38 L615.76,199.27 L616.84,199.16 L617.91,199.04 L618.99,198.93 L620.07,198.81 L621.14,198.70 L622.22,198.58 L623.29,198.46 L624.37,198.34 L625.45,198.22 L626.52,198.10 L627.60,197.98 L628.68,197.86 L629.75,197.74 L630.83,197.62 L631.90,197.50 L632.98,197.37 L634.05,197.25 L635.13,197.13 L636.20,197.02 L637.28,196.90 L638.36,196.78 L639.43,196.66 L640.51,196.55 L641.58,196.44 L642.65,196.32 L643.73,196.21 L644.80,196.10 L645.88,196.00 L646.95,195.89 L648.02,195.79 L649.10,195.70 L650.17,195.60 L651.24,195.52 L652.32,195.43 L653.39,195.36 L654.46,195.29 L655.53,195.23 L656.60,195.17 L657.67,195.13 L658.74,195.09 L659.81,195.06 L660.88,195.05 L661.95,195.04 L663.02,195.04 L664.09,195.06 L665.16,195.08 L666.22,195.12 L667.29,195.17 L668.36,195.24 L669.42,195.32 L670.49,195.41 L671.55,195.52 L672.61,195.65 L673.68,195.79 L674.74,195.95 L675.80,196.12 L676.86,196.31 L677.92,196.52 L678.98,196.75 L680.03,197.00 L681.08,197.26 L682.12,197.54 L683.17,197.84 L684.20,198.15 L685.24,198.48 L686.26,198.83 L687.28,199.20 L688.29,199.59 L689.30,199.99 L690.30,200.41 L691.29,200.85 L692.27,201.31 L693.24,201.79 L694.20,202.28 L695.15,202.79 L696.09,203.32 L697.02,203.87 L697.94,204.44 L698.84,205.02 L699.74,205.62 L700.62,206.25 L701.48,206.89 L702.33,207.54 L703.17,208.22 L704.00,208.91 L704.81,209.62 L705.60,210.34 L706.38,211.08 L707.15,211.84 L707.90,212.61 L708.63,213.40 L709.35,214.20 L710.05,215.01 L710.74,215.84 L711.41,216.69 L712.06,217.54 L712.70,218.41 L713.31,219.30 L713.91,220.19 L714.50,221.10 L715.06,222.02 L715.62,222.95 L716.16,223.89 L716.68,224.83 L717.20,225.78 L717.71,226.74 L718.21,227.71 L718.70,228.67 L719.19,229.64 L719.68,230.62 L720.16,231.59 L720.64,232.56 L721.13,233.53 L721.62,234.50 L722.11,235.46 L722.60,236.42 L723.10,237.37 L723.61,238.32 L724.13,239.26 L724.66,240.19 L725.21,241.11 L725.76,242.02 L726.34,242.91 L726.92,243.80 L727.53,244.67 L728.16,245.52 L728.81,246.35 L729.48,247.16 L730.20,247.94 L730.95,248.67 L731.75,249.37 L732.60,250.01 L733.50,250.60" fill="none" stroke="#000" stroke-width="1.6" stroke-dasharray="2.6 2.8" stroke-dashoffset="0"/>
<path d="M440.30,143.30 L441.77,143.31 L443.23,143.35 L444.69,143.40 L446.15,143.47 L447.61,143.57 L449.06,143.68 L450.51,143.81 L451.96,143.96 L453.40,144.13 L454.85,144.32 L456.29,144.52 L457.72,144.74 L459.16,144.98 L460.59,145.24 L462.01,145.51 L463.44,145.80 L464.86,146.10 L466.28,146.42 L467.70,146.75 L469.11,147.10 L470.52,147.46 L471.93,147.84 L473.33,148.23 L474.73,148.63 L476.13,149.04 L477.52,149.47 L478.91,149.91 L480.30,150.36 L481.69,150.83 L483.07,151.30 L484.45,151.79 L485.82,152.29 L487.19,152.79 L488.56,153.31 L489.93,153.84 L491.29,154.37 L492.65,154.92 L494.01,155.47 L495.36,156.03 L496.71,156.60 L498.05,157.17 L499.39,157.76 L500.73,158.35 L502.07,158.95 L503.40,159.55 L504.73,160.16 L506.05,160.77 L507.38,161.39 L508.69,162.02 L510.01,162.65 L511.32,163.28 L512.63,163.92 L513.93,164.56 L515.23,165.20 L516.53,165.85 L517.82,166.50 L519.11,167.15 L520.40,167.81 L521.68,168.46 L522.97,169.12 L524.25,169.77 L525.53,170.43 L526.81,171.09 L528.09,171.74 L529.37,172.40 L530.64,173.06 L531.92,173.71 L533.20,174.36 L534.48,175.01 L535.76,175.66 L537.04,176.30 L538.32,176.95 L539.61,177.58 L540.90,178.22 L542.19,178.85 L543.48,179.48 L544.78,180.10 L546.08,180.71 L547.38,181.32 L548.69,181.93 L550.01,182.52 L551.32,183.12 L552.65,183.70 L553.98,184.28 L555.31,184.85 L556.65,185.41 L558.00,185.96 L559.35,186.51 L560.71,187.04 L562.07,187.57 L563.44,188.09 L564.82,188.60 L566.20,189.10 L567.59,189.58 L568.98,190.06 L570.37,190.53 L571.77,190.99 L573.18,191.44 L574.58,191.88 L576.00,192.31 L577.41,192.72 L578.83,193.13 L580.26,193.52 L581.68,193.91 L583.11,194.28 L584.55,194.64 L585.98,194.98 L587.42,195.32 L588.86,195.64 L590.30,195.95 L591.75,196.24 L593.19,196.53 L594.64,196.80 L596.09,197.05 L597.55,197.30 L599.00,197.52 L600.45,197.74 L601.91,197.94 L603.36,198.13 L604.82,198.30 L606.27,198.45 L607.73,198.60 L609.19,198.72 L610.64,198.83 L612.10,198.93 L613.56,199.01 L615.01,199.07 L616.46,199.12 L617.92,199.15 L619.37,199.17 L620.82,199.16 L622.27,199.14 L623.71,199.11 L625.16,199.06 L626.60,198.98 L628.04,198.90 L629.48,198.79 L630.92,198.67 L632.35,198.52 L633.78,198.36 L635.21,198.18 L636.63,197.98 L638.05,197.77 L639.47,197.53 L640.88,197.27 L642.29,197.00 L643.69,196.70 L645.09,196.39 L646.49,196.05 L647.88,195.69 L649.26,195.32 L650.64,194.92 L652.02,194.50 L653.39,194.06 L654.75,193.60 L656.11,193.12 L657.47,192.62 L658.81,192.09 L660.15,191.54 L661.49,190.97 L662.82,190.38 L664.14,189.77 L665.45,189.13 L666.76,188.47 L668.05,187.78 L669.33,187.07 L670.60,186.34 L671.85,185.58 L673.09,184.79 L674.30,183.97 L675.50,183.13 L676.67,182.26 L677.82,181.36 L678.94,180.44 L680.03,179.48 L681.09,178.49 L682.12,177.47 L683.11,176.42 L684.07,175.34 L684.99,174.22 L685.88,173.08 L686.73,171.90 L687.55,170.70 L688.34,169.47 L689.11,168.23 L689.85,166.97 L690.57,165.69 L691.27,164.40 L691.96,163.10 L692.63,161.80 L693.29,160.49 L693.93,159.17 L694.57,157.85 L695.19,156.52 L695.79,155.19 L696.39,153.85 L696.97,152.50 L697.53,151.16 L698.09,149.80 L698.63,148.45 L699.16,147.08 L699.67,145.72 L700.18,144.35 L700.67,142.98 L701.14,141.60 L701.61,140.23 L702.06,138.84 L702.50,137.46 L702.93,136.07 L703.35,134.69 L703.75,133.29 L704.15,131.90 L704.53,130.50 L704.90,129.10 L705.26,127.70 L705.61,126.29 L705.95,124.89 L706.29,123.48 L706.61,122.07 L706.92,120.65 L707.22,119.23 L707.51,117.82 L707.80,116.40 L708.07,114.97 L708.34,113.55 L708.60,112.12 L708.85,110.70 L709.09,109.27 L709.32,107.83 L709.55,106.40 L709.77,104.97 L709.98,103.53 L710.19,102.09 L710.39,100.65 L710.58,99.21 L710.77,97.77 L710.95,96.32 L711.12,94.88 L711.29,93.43 L711.45,91.99 L711.61,90.54 L711.77,89.09 L711.92,87.64 L712.06,86.19 L712.20,84.74 L712.33,83.28 L712.47,81.83 L712.59,80.37 L712.72,78.92 L712.84,77.46 L712.96,76.01 L713.07,74.55 L713.19,73.09 L713.30,71.64 L713.40,70.18 L713.51,68.72 L713.61,67.26 L713.72,65.80 L713.82,64.34 L713.92,62.88 L714.01,61.42 L714.11,59.97 L714.21,58.51 L714.31,57.05 L714.40,55.59 L714.50,54.13 L714.60,52.67 L714.70,51.22 L714.79,49.76 L714.89,48.30 L714.99,46.85 L715.09,45.39 L715.20,43.94 L715.30,42.48 L715.41,41.03 L715.52,39.57 L715.63,38.12 L715.74,36.67 L715.86,35.22 L715.98,33.77 L716.10,32.32 L716.23,30.88 L716.36,29.43 L716.49,27.99 L716.63,26.54 L716.77,25.10 L716.92,23.66 L717.07,22.22 L717.23,20.78 L717.39,19.35 L717.55,17.91 L717.73,16.48 L717.90,15.05 L718.09,13.62 L718.28,12.19 L718.47,10.77 L718.67,9.34 L718.88,7.92 L719.10,6.50" fill="none" stroke="#000" stroke-width="1.6" stroke-dasharray="3 2.5 5.9 2.5" stroke-dashoffset="0"/>
<path d="M440.26,155.70 L441.03,155.69 L441.80,155.68 L442.58,155.68 L443.35,155.68 L444.12,155.69 L444.89,155.71 L445.66,155.73 L446.42,155.75 L447.19,155.78 L447.95,155.82 L448.72,155.86 L449.48,155.90 L450.24,155.95 L451.00,156.01 L451.76,156.07 L452.52,156.14 L453.28,156.21 L454.03,156.28 L454.79,156.36 L455.54,156.45 L456.30,156.54 L457.05,156.63 L457.80,156.73 L458.55,156.84 L459.30,156.95 L460.05,157.06 L460.80,157.18 L461.54,157.30 L462.29,157.42 L463.03,157.55 L463.78,157.69 L464.52,157.83 L465.26,157.97 L466.01,158.11 L466.75,158.26 L467.49,158.42 L468.22,158.58 L468.96,158.74 L469.70,158.91 L470.44,159.08 L471.17,159.25 L471.91,159.43 L472.64,159.61 L473.37,159.79 L474.11,159.98 L474.84,160.17 L475.57,160.36 L476.30,160.56 L477.03,160.76 L477.76,160.97 L478.48,161.17 L479.21,161.39 L479.94,161.60 L480.66,161.82 L481.39,162.04 L482.11,162.26 L482.84,162.48 L483.56,162.71 L484.28,162.94 L485.00,163.18 L485.72,163.42 L486.44,163.66 L487.16,163.90 L487.88,164.14 L488.60,164.39 L489.32,164.64 L490.04,164.89 L490.75,165.14 L491.47,165.40 L492.19,165.66 L492.90,165.92 L493.61,166.18 L494.33,166.45 L495.04,166.72 L495.75,166.99 L496.47,167.26 L497.18,167.53 L497.89,167.81 L498.60,168.08 L499.31,168.36 L500.02,168.64 L500.73,168.92 L501.44,169.21 L502.14,169.49 L502.85,169.78 L503.56,170.07 L504.27,170.36 L504.97,170.65 L505.68,170.94 L506.38,171.23 L507.09,171.53 L507.79,171.82 L508.50,172.12 L509.20,172.42 L509.91,172.72 L510.61,173.02 L511.31,173.32 L512.02,173.62 L512.72,173.92 L513.42,174.22 L514.12,174.52 L514.83,174.83 L515.53,175.13 L516.23,175.43 L516.93,175.74 L517.63,176.04 L518.34,176.35 L519.04,176.65 L519.74,176.96 L520.44,177.26 L521.14,177.57 L521.84,177.87 L522.55,178.18 L523.25,178.48 L523.95,178.78 L524.65,179.09 L525.35,179.39 L526.05,179.69 L526.76,180.00 L527.46,180.30 L528.16,180.60 L528.86,180.90 L529.57,181.20 L530.27,181.50 L530.97,181.80 L531.67,182.09 L532.38,182.39 L533.08,182.68 L533.79,182.98 L534.49,183.27 L535.20,183.56 L535.90,183.85 L536.61,184.14 L537.31,184.43 L538.02,184.71 L538.73,185.00 L539.43,185.28 L540.14,185.56 L540.85,185.84 L541.56,186.11 L542.27,186.39 L542.98,186.66 L543.69,186.93 L544.40,187.20 L545.11,187.47 L545.82,187.74 L546.53,188.00 L547.25,188.26 L547.96,188.52 L548.68,188.77 L549.39,189.03 L550.11,189.28 L550.82,189.53 L551.54,189.77 L552.26,190.01 L552.98,190.25 L553.70,190.49 L554.42,190.73 L555.14,190.96 L555.86,191.19 L556.59,191.41 L557.31,191.63 L558.03,191.85 L558.76,192.07 L559.49,192.28 L560.22,192.49 L560.94,192.69 L561.67,192.90 L562.40,193.10 L563.14,193.29 L563.87,193.48 L564.60,193.67 L565.34,193.85 L566.07,194.03 L566.81,194.21 L567.55,194.39 L568.29,194.56 L569.02,194.72 L569.76,194.89 L570.51,195.04 L571.25,195.20 L571.99,195.35 L572.73,195.50 L573.48,195.65 L574.22,195.79 L574.97,195.93 L575.71,196.07 L576.46,196.20 L577.21,196.33 L577.96,196.45 L578.71,196.57 L579.46,196.69 L580.21,196.81 L580.96,196.92 L581.71,197.03 L582.46,197.14 L583.22,197.24 L583.97,197.34 L584.72,197.43 L585.48,197.53 L586.23,197.62 L586.99,197.70 L587.75,197.79 L588.50,197.86 L589.26,197.94 L590.02,198.02 L590.77,198.09 L591.53,198.15 L592.29,198.22 L593.05,198.28 L593.81,198.34 L594.57,198.39 L595.33,198.44 L596.09,198.49 L596.85,198.54 L597.61,198.58 L598.37,198.62 L599.13,198.66 L599.89,198.69 L600.66,198.72 L601.42,198.75 L602.18,198.77 L602.94,198.79 L603.70,198.81 L604.47,198.83 L605.23,198.84 L605.99,198.85 L606.75,198.86 L607.52,198.86 L608.28,198.86 L609.04,198.86 L609.80,198.86 L610.57,198.85 L611.33,198.84 L612.09,198.83 L612.85,198.81 L613.62,198.79 L614.38,198.77 L615.14,198.75 L615.90,198.72 L616.66,198.69 L617.43,198.66 L618.19,198.63 L618.95,198.59 L619.71,198.55 L620.47,198.51 L621.23,198.46 L621.99,198.41 L622.75,198.36 L623.51,198.31 L624.27,198.25 L625.03,198.20 L625.79,198.13 L626.55,198.07 L627.31,198.01 L628.06,197.94 L628.82,197.87 L629.58,197.80 L630.34,197.72 L631.09,197.65 L631.85,197.57 L632.61,197.49 L633.36,197.41 L634.12,197.33 L634.88,197.24 L635.63,197.16 L636.39,197.07 L637.14,196.98 L637.90,196.89 L638.65,196.80 L639.41,196.70 L640.16,196.61 L640.92,196.51 L641.67,196.42 L642.43,196.32 L643.18,196.22 L643.94,196.12 L644.69,196.02 L645.45,195.91 L646.20,195.81 L646.95,195.71 L647.71,195.60 L648.46,195.49 L649.21,195.39 L649.97,195.28 L650.72,195.17 L651.47,195.06 L652.23,194.95 L652.98,194.84 L653.73,194.72 L654.49,194.61 L655.24,194.50 L655.99,194.38 L656.75,194.27 L657.50,194.15 L658.25,194.03 L659.00,193.91 L659.76,193.79 L660.51,193.67 L661.26,193.55 L662.01,193.43 L662.76,193.30 L663.51,193.18 L664.27,193.05 L665.02,192.93 L665.77,192.80 L666.52,192.67 L667.27,192.54 L668.02,192.41 L668.77,192.27 L669.52,192.14 L670.27,192.00 L671.02,191.87 L671.77,191.73 L672.52,191.59 L673.26,191.45 L674.01,191.30 L674.76,191.16 L675.51,191.01 L676.25,190.87 L677.00,190.72 L677.75,190.57 L678.49,190.42 L679.24,190.27 L679.99,190.11 L680.73,189.96 L681.48,189.80 L682.22,189.64 L682.96,189.48 L683.71,189.32 L684.45,189.15 L685.19,188.99 L685.94,188.82 L686.68,188.65 L687.42,188.48 L688.16,188.31 L688.90,188.13 L689.64,187.96 L690.38,187.78 L691.12,187.60 L691.86,187.42 L692.60,187.23 L693.34,187.05 L694.07,186.86 L694.81,186.67 L695.54,186.47 L696.28,186.28 L697.01,186.08 L697.75,185.88 L698.48,185.68 L699.21,185.48 L699.94,185.27 L700.67,185.06 L701.40,184.85 L702.13,184.63 L702.86,184.41 L703.58,184.19 L704.31,183.97 L705.03,183.74 L705.76,183.51 L706.48,183.28 L707.20,183.04 L707.92,182.80 L708.64,182.56 L709.36,182.31 L710.07,182.06 L710.79,181.81 L711.50,181.55 L712.21,181.29 L712.92,181.03 L713.63,180.76 L714.34,180.49 L715.05,180.21 L715.75,179.93 L716.46,179.65 L717.16,179.36 L717.86,179.07 L718.56,178.77 L719.25,178.47 L719.95,178.17 L720.64,177.86 L721.33,177.55 L722.02,177.23 L722.71,176.91 L723.40,176.58 L724.08,176.25 L724.77,175.92 L725.45,175.57 L726.13,175.23 L726.80,174.88 L727.48,174.52 L728.15,174.16 L728.82,173.80 L729.49,173.43 L730.16,173.05 L730.82,172.67 L731.48,172.29 L732.14,171.90 L732.80,171.50" fill="none" stroke="#ff0000" stroke-width="2.3" stroke-dasharray="7.1 2.5" stroke-dashoffset="0"/>
<path d="M440.25,155.31 L441.04,155.29 L441.82,155.28 L442.60,155.27 L443.38,155.27 L444.15,155.28 L444.93,155.29 L445.71,155.30 L446.48,155.33 L447.25,155.36 L448.02,155.39 L448.79,155.43 L449.56,155.47 L450.32,155.52 L451.09,155.58 L451.85,155.64 L452.61,155.71 L453.37,155.78 L454.13,155.85 L454.89,155.94 L455.65,156.02 L456.40,156.11 L457.16,156.21 L457.91,156.31 L458.66,156.42 L459.41,156.53 L460.16,156.64 L460.91,156.76 L461.66,156.88 L462.40,157.01 L463.15,157.15 L463.89,157.28 L464.63,157.42 L465.38,157.57 L466.12,157.72 L466.86,157.87 L467.59,158.03 L468.33,158.19 L469.07,158.36 L469.80,158.53 L470.54,158.70 L471.27,158.88 L472.00,159.06 L472.74,159.25 L473.47,159.44 L474.20,159.63 L474.93,159.82 L475.65,160.02 L476.38,160.23 L477.11,160.43 L477.83,160.64 L478.56,160.85 L479.28,161.07 L480.01,161.29 L480.73,161.51 L481.45,161.74 L482.17,161.96 L482.89,162.19 L483.61,162.43 L484.33,162.66 L485.05,162.90 L485.77,163.15 L486.48,163.39 L487.20,163.64 L487.91,163.89 L488.63,164.14 L489.34,164.39 L490.06,164.65 L490.77,164.91 L491.48,165.17 L492.20,165.43 L492.91,165.70 L493.62,165.97 L494.33,166.23 L495.04,166.51 L495.75,166.78 L496.46,167.05 L497.17,167.33 L497.88,167.61 L498.58,167.89 L499.29,168.17 L500.00,168.46 L500.71,168.74 L501.41,169.03 L502.12,169.32 L502.83,169.61 L503.53,169.90 L504.24,170.19 L504.94,170.48 L505.65,170.77 L506.35,171.07 L507.06,171.37 L507.76,171.66 L508.46,171.96 L509.17,172.26 L509.87,172.56 L510.58,172.86 L511.28,173.16 L511.98,173.46 L512.68,173.76 L513.39,174.07 L514.09,174.37 L514.79,174.67 L515.50,174.98 L516.20,175.28 L516.90,175.58 L517.60,175.89 L518.31,176.19 L519.01,176.50 L519.71,176.80 L520.42,177.11 L521.12,177.41 L521.82,177.71 L522.53,178.02 L523.23,178.32 L523.93,178.62 L524.64,178.93 L525.34,179.23 L526.04,179.53 L526.75,179.83 L527.45,180.13 L528.16,180.43 L528.86,180.73 L529.57,181.03 L530.27,181.33 L530.98,181.63 L531.68,181.92 L532.39,182.22 L533.09,182.51 L533.80,182.80 L534.51,183.09 L535.22,183.38 L535.92,183.67 L536.63,183.96 L537.34,184.25 L538.05,184.53 L538.76,184.81 L539.47,185.10 L540.18,185.38 L540.89,185.65 L541.60,185.93 L542.31,186.20 L543.02,186.48 L543.74,186.75 L544.45,187.02 L545.16,187.28 L545.88,187.55 L546.59,187.81 L547.31,188.07 L548.03,188.33 L548.74,188.59 L549.46,188.84 L550.18,189.09 L550.90,189.34 L551.62,189.59 L552.34,189.83 L553.06,190.07 L553.78,190.31 L554.50,190.54 L555.23,190.78 L555.95,191.01 L556.68,191.23 L557.40,191.46 L558.13,191.68 L558.86,191.90 L559.59,192.11 L560.31,192.32 L561.04,192.53 L561.78,192.74 L562.51,192.94 L563.24,193.14 L563.97,193.33 L564.71,193.52 L565.44,193.71 L566.18,193.90 L566.92,194.08 L567.66,194.25 L568.40,194.43 L569.13,194.60 L569.88,194.77 L570.62,194.93 L571.36,195.09 L572.10,195.25 L572.84,195.41 L573.59,195.56 L574.33,195.70 L575.08,195.85 L575.83,195.99 L576.57,196.13 L577.32,196.26 L578.07,196.39 L578.82,196.52 L579.57,196.64 L580.32,196.76 L581.07,196.88 L581.82,197.00 L582.57,197.11 L583.32,197.22 L584.08,197.32 L584.83,197.42 L585.58,197.52 L586.34,197.61 L587.09,197.71 L587.85,197.79 L588.61,197.88 L589.36,197.96 L590.12,198.04 L590.88,198.11 L591.63,198.18 L592.39,198.25 L593.15,198.32 L593.91,198.38 L594.67,198.44 L595.43,198.49 L596.18,198.55 L596.94,198.60 L597.70,198.64 L598.46,198.68 L599.23,198.72 L599.99,198.76 L600.75,198.79 L601.51,198.82 L602.27,198.85 L603.03,198.87 L603.79,198.89 L604.55,198.91 L605.32,198.92 L606.08,198.93 L606.84,198.94 L607.60,198.95 L608.37,198.95 L609.13,198.95 L609.89,198.94 L610.65,198.93 L611.41,198.92 L612.18,198.91 L612.94,198.89 L613.70,198.87 L614.46,198.84 L615.23,198.82 L615.99,198.78 L616.75,198.75 L617.51,198.71 L618.28,198.68 L619.04,198.63 L619.80,198.59 L620.56,198.54 L621.32,198.49 L622.08,198.43 L622.84,198.37 L623.61,198.31 L624.37,198.25 L625.13,198.18 L625.89,198.11 L626.65,198.03 L627.41,197.96 L628.17,197.88 L628.92,197.79 L629.68,197.71 L630.44,197.62 L631.20,197.53 L631.96,197.44 L632.72,197.35 L633.47,197.26 L634.23,197.16 L634.99,197.07 L635.75,196.97 L636.50,196.88 L637.26,196.78 L638.02,196.69 L638.78,196.59 L639.53,196.49 L640.29,196.40 L641.05,196.31 L641.81,196.21 L642.56,196.12 L643.32,196.03 L644.08,195.94 L644.83,195.86 L645.59,195.77 L646.35,195.69 L647.11,195.60 L647.86,195.52 L648.62,195.44 L649.38,195.35 L650.13,195.27 L650.89,195.18 L651.64,195.09 L652.40,195.00 L653.15,194.91 L653.91,194.81 L654.66,194.71 L655.41,194.61 L656.16,194.50 L656.91,194.39 L657.66,194.27 L658.41,194.15 L659.16,194.02 L659.91,193.89 L660.66,193.75 L661.40,193.61 L662.15,193.47 L662.89,193.32 L663.64,193.17 L664.38,193.01 L665.12,192.85 L665.86,192.68 L666.60,192.52 L667.34,192.34 L668.08,192.17 L668.82,191.99 L669.56,191.80 L670.30,191.62 L671.03,191.43 L671.77,191.23 L672.51,191.03 L673.24,190.83 L673.97,190.63 L674.71,190.42 L675.44,190.21 L676.17,190.00 L676.90,189.78 L677.63,189.57 L678.36,189.34 L679.09,189.12 L679.82,188.89 L680.55,188.67 L681.28,188.43 L682.00,188.20 L682.73,187.96 L683.45,187.73 L684.18,187.49 L684.90,187.24 L685.63,187.00 L686.35,186.75 L687.07,186.50 L687.80,186.25 L688.52,186.00 L689.24,185.75 L689.96,185.49 L690.68,185.24 L691.40,184.98 L692.12,184.72 L692.84,184.46 L693.55,184.20 L694.27,183.94 L694.99,183.67 L695.70,183.41 L696.42,183.14 L697.14,182.87 L697.85,182.61 L698.56,182.34 L699.28,182.07 L699.99,181.80 L700.70,181.53 L701.42,181.26 L702.13,180.99 L702.84,180.72 L703.55,180.45 L704.26,180.18 L704.97,179.90 L705.68,179.63 L706.39,179.35 L707.10,179.08 L707.81,178.80 L708.52,178.52 L709.23,178.25 L709.93,177.97 L710.64,177.69 L711.35,177.41 L712.05,177.13 L712.76,176.84 L713.46,176.56 L714.17,176.27 L714.87,175.99 L715.57,175.70 L716.27,175.41 L716.98,175.12 L717.68,174.83 L718.38,174.54 L719.08,174.25 L719.78,173.95 L720.48,173.66 L721.18,173.36 L721.88,173.06 L722.58,172.76 L723.27,172.46 L723.97,172.16 L724.67,171.85 L725.37,171.55 L726.06,171.24 L726.76,170.93 L727.45,170.62 L728.14,170.31 L728.84,169.99 L729.53,169.68 L730.22,169.36 L730.92,169.04 L731.61,168.72 L732.30,168.40" fill="none" stroke="#ff0000" stroke-width="2.3" stroke-dasharray="8 4.4" stroke-dashoffset="0"/>
<path d="M440.25,154.90 L441.14,154.89 L442.03,154.89 L442.92,154.89 L443.80,154.90 L444.69,154.92 L445.57,154.95 L446.45,154.98 L447.33,155.02 L448.20,155.07 L449.08,155.12 L449.95,155.18 L450.82,155.25 L451.69,155.32 L452.55,155.40 L453.42,155.48 L454.28,155.58 L455.15,155.68 L456.01,155.78 L456.87,155.89 L457.72,156.01 L458.58,156.13 L459.44,156.26 L460.29,156.40 L461.14,156.54 L461.99,156.68 L462.84,156.83 L463.69,156.99 L464.53,157.15 L465.38,157.32 L466.22,157.49 L467.06,157.67 L467.91,157.86 L468.74,158.05 L469.58,158.24 L470.42,158.44 L471.26,158.64 L472.09,158.85 L472.92,159.06 L473.76,159.28 L474.59,159.50 L475.42,159.72 L476.25,159.95 L477.08,160.19 L477.90,160.43 L478.73,160.67 L479.55,160.91 L480.38,161.16 L481.20,161.42 L482.02,161.68 L482.85,161.94 L483.67,162.20 L484.48,162.47 L485.30,162.74 L486.12,163.02 L486.94,163.30 L487.75,163.58 L488.57,163.87 L489.38,164.15 L490.20,164.45 L491.01,164.74 L491.82,165.04 L492.64,165.34 L493.45,165.64 L494.26,165.94 L495.07,166.25 L495.88,166.56 L496.68,166.87 L497.49,167.19 L498.30,167.51 L499.11,167.82 L499.91,168.14 L500.72,168.47 L501.53,168.79 L502.33,169.12 L503.14,169.45 L503.94,169.78 L504.74,170.11 L505.55,170.44 L506.35,170.78 L507.15,171.11 L507.96,171.45 L508.76,171.79 L509.56,172.13 L510.36,172.47 L511.17,172.81 L511.97,173.15 L512.77,173.49 L513.57,173.84 L514.37,174.18 L515.17,174.52 L515.97,174.87 L516.77,175.21 L517.58,175.56 L518.38,175.91 L519.18,176.25 L519.98,176.60 L520.78,176.95 L521.58,177.29 L522.38,177.64 L523.18,177.98 L523.98,178.33 L524.78,178.67 L525.59,179.02 L526.39,179.36 L527.19,179.71 L527.99,180.05 L528.79,180.39 L529.60,180.73 L530.40,181.07 L531.20,181.41 L532.01,181.75 L532.81,182.09 L533.61,182.42 L534.42,182.76 L535.22,183.09 L536.03,183.42 L536.84,183.75 L537.64,184.08 L538.45,184.41 L539.26,184.73 L540.06,185.06 L540.87,185.38 L541.68,185.70 L542.49,186.01 L543.30,186.33 L544.11,186.64 L544.92,186.95 L545.73,187.26 L546.55,187.56 L547.36,187.86 L548.17,188.16 L548.99,188.46 L549.81,188.76 L550.62,189.05 L551.44,189.34 L552.26,189.62 L553.08,189.90 L553.90,190.18 L554.72,190.46 L555.54,190.73 L556.36,191.00 L557.18,191.26 L558.01,191.53 L558.83,191.78 L559.66,192.04 L560.49,192.29 L561.32,192.54 L562.15,192.78 L562.98,193.02 L563.81,193.25 L564.64,193.48 L565.48,193.71 L566.31,193.93 L567.15,194.15 L567.99,194.36 L568.83,194.57 L569.67,194.77 L570.51,194.97 L571.35,195.16 L572.19,195.35 L573.04,195.53 L573.89,195.71 L574.73,195.89 L575.58,196.05 L576.44,196.22 L577.29,196.37 L578.14,196.53 L579.00,196.67 L579.85,196.82 L580.71,196.95 L581.57,197.09 L582.43,197.21 L583.29,197.34 L584.15,197.45 L585.01,197.57 L585.87,197.67 L586.74,197.78 L587.60,197.87 L588.47,197.97 L589.33,198.05 L590.20,198.14 L591.07,198.22 L591.93,198.29 L592.80,198.36 L593.67,198.43 L594.54,198.49 L595.41,198.54 L596.28,198.59 L597.15,198.64 L598.02,198.68 L598.89,198.72 L599.76,198.76 L600.63,198.79 L601.50,198.81 L602.37,198.83 L603.24,198.85 L604.11,198.86 L604.99,198.87 L605.86,198.87 L606.73,198.87 L607.60,198.87 L608.47,198.86 L609.33,198.85 L610.20,198.83 L611.07,198.81 L611.94,198.79 L612.81,198.76 L613.68,198.73 L614.54,198.70 L615.41,198.66 L616.28,198.62 L617.14,198.57 L618.01,198.52 L618.87,198.47 L619.74,198.42 L620.60,198.36 L621.47,198.30 L622.33,198.24 L623.20,198.17 L624.06,198.10 L624.92,198.03 L625.79,197.96 L626.65,197.89 L627.51,197.81 L628.37,197.73 L629.24,197.65 L630.10,197.57 L630.96,197.48 L631.82,197.39 L632.68,197.30 L633.55,197.21 L634.41,197.12 L635.27,197.03 L636.13,196.93 L636.99,196.84 L637.85,196.74 L638.71,196.64 L639.57,196.54 L640.44,196.44 L641.30,196.34 L642.16,196.24 L643.02,196.14 L643.88,196.04 L644.74,195.93 L645.60,195.83 L646.46,195.73 L647.32,195.62 L648.18,195.51 L649.04,195.41 L649.90,195.30 L650.76,195.19 L651.63,195.08 L652.49,194.97 L653.35,194.85 L654.21,194.74 L655.07,194.62 L655.93,194.50 L656.80,194.38 L657.66,194.26 L658.52,194.13 L659.39,194.00 L660.25,193.87 L661.11,193.74 L661.98,193.60 L662.84,193.47 L663.71,193.33 L664.57,193.18 L665.44,193.03 L666.30,192.88 L667.16,192.73 L668.03,192.57 L668.89,192.40 L669.75,192.23 L670.61,192.06 L671.47,191.88 L672.33,191.70 L673.18,191.51 L674.04,191.31 L674.89,191.11 L675.74,190.90 L676.59,190.69 L677.43,190.47 L678.27,190.24 L679.11,190.00 L679.95,189.76 L680.79,189.51 L681.62,189.25 L682.45,188.99 L683.27,188.71 L684.10,188.43 L684.91,188.14 L685.73,187.84 L686.54,187.53 L687.34,187.21 L688.15,186.88 L688.94,186.54 L689.74,186.19 L690.53,185.83 L691.31,185.46 L692.09,185.08 L692.86,184.69 L693.63,184.29 L694.39,183.87 L695.15,183.45 L695.90,183.01 L696.65,182.56 L697.39,182.10 L698.12,181.63 L698.85,181.15 L699.57,180.66 L700.28,180.16 L700.98,179.64 L701.68,179.12 L702.37,178.59 L703.05,178.04 L703.72,177.49 L704.39,176.92 L705.04,176.35 L705.69,175.77 L706.33,175.18 L706.95,174.57 L707.57,173.96 L708.18,173.34 L708.78,172.71 L709.36,172.08 L709.94,171.43 L710.51,170.78 L711.06,170.11 L711.61,169.44 L712.14,168.76 L712.66,168.07 L713.17,167.38 L713.67,166.67 L714.15,165.96 L714.62,165.25 L715.08,164.52 L715.53,163.79 L715.97,163.05 L716.40,162.30 L716.82,161.55 L717.22,160.79 L717.62,160.03 L718.00,159.26 L718.38,158.48 L718.74,157.70 L719.10,156.91 L719.45,156.12 L719.79,155.32 L720.11,154.52 L720.44,153.72 L720.75,152.91 L721.05,152.09 L721.35,151.27 L721.64,150.45 L721.92,149.62 L722.19,148.80 L722.46,147.96 L722.72,147.13 L722.97,146.29 L723.21,145.45 L723.45,144.61 L723.69,143.76 L723.92,142.92 L724.14,142.07 L724.36,141.22 L724.57,140.37 L724.78,139.51 L724.98,138.66 L725.18,137.80 L725.37,136.95 L725.56,136.09 L725.74,135.24 L725.92,134.38 L726.10,133.52 L726.28,132.67 L726.45,131.81 L726.62,130.96 L726.80,130.10 L726.97,129.25 L727.15,128.41 L727.33,127.56 L727.52,126.72 L727.72,125.88 L727.92,125.04 L728.14,124.21 L728.37,123.39 L728.61,122.57 L728.87,121.76 L729.14,120.95 L729.44,120.15 L729.75,119.35 L730.08,118.57 L730.44,117.79 L730.82,117.02 L731.23,116.26 L731.68,115.53 L732.17,114.82 L732.71,114.14 L733.30,113.50" fill="none" stroke="#ff0000" stroke-width="2.3" stroke-dasharray="10 5.3" stroke-dashoffset="0"/>
<path d="M440.26,152.90 L441.39,152.91 L442.53,152.92 L443.66,152.95 L444.79,152.99 L445.92,153.04 L447.04,153.10 L448.16,153.18 L449.28,153.26 L450.40,153.35 L451.51,153.46 L452.62,153.58 L453.72,153.70 L454.83,153.84 L455.93,153.98 L457.03,154.14 L458.13,154.31 L459.22,154.48 L460.31,154.67 L461.40,154.86 L462.49,155.06 L463.57,155.28 L464.65,155.50 L465.73,155.73 L466.81,155.96 L467.88,156.21 L468.96,156.46 L470.03,156.72 L471.10,156.99 L472.17,157.27 L473.23,157.56 L474.29,157.85 L475.36,158.15 L476.42,158.45 L477.47,158.76 L478.53,159.08 L479.58,159.41 L480.64,159.74 L481.69,160.08 L482.74,160.42 L483.79,160.77 L484.83,161.13 L485.88,161.49 L486.92,161.86 L487.96,162.23 L489.01,162.61 L490.05,162.99 L491.08,163.38 L492.12,163.77 L493.16,164.16 L494.19,164.56 L495.23,164.96 L496.26,165.37 L497.29,165.78 L498.33,166.20 L499.36,166.62 L500.39,167.04 L501.42,167.46 L502.44,167.89 L503.47,168.32 L504.50,168.75 L505.52,169.19 L506.55,169.63 L507.58,170.07 L508.60,170.51 L509.62,170.95 L510.65,171.40 L511.67,171.85 L512.70,172.29 L513.72,172.74 L514.74,173.19 L515.76,173.65 L516.79,174.10 L517.81,174.55 L518.83,175.00 L519.85,175.46 L520.87,175.91 L521.90,176.36 L522.92,176.82 L523.94,177.27 L524.96,177.72 L525.99,178.17 L527.01,178.62 L528.03,179.07 L529.06,179.52 L530.08,179.97 L531.11,180.41 L532.13,180.86 L533.16,181.30 L534.19,181.74 L535.21,182.17 L536.24,182.61 L537.27,183.04 L538.30,183.47 L539.33,183.90 L540.36,184.32 L541.39,184.74 L542.42,185.16 L543.46,185.58 L544.49,185.99 L545.53,186.39 L546.56,186.80 L547.60,187.19 L548.64,187.59 L549.68,187.98 L550.72,188.36 L551.77,188.75 L552.81,189.12 L553.86,189.49 L554.90,189.86 L555.95,190.22 L557.00,190.57 L558.05,190.92 L559.11,191.26 L560.16,191.60 L561.22,191.93 L562.28,192.26 L563.34,192.57 L564.40,192.89 L565.46,193.19 L566.53,193.49 L567.60,193.78 L568.67,194.06 L569.74,194.34 L570.81,194.61 L571.89,194.87 L572.97,195.12 L574.05,195.36 L575.13,195.60 L576.21,195.82 L577.30,196.04 L578.39,196.25 L579.48,196.46 L580.58,196.65 L581.67,196.83 L582.77,197.01 L583.87,197.17 L584.98,197.33 L586.08,197.48 L587.19,197.62 L588.30,197.75 L589.41,197.87 L590.52,197.99 L591.63,198.10 L592.74,198.19 L593.86,198.29 L594.97,198.37 L596.09,198.45 L597.21,198.51 L598.32,198.57 L599.44,198.63 L600.56,198.67 L601.68,198.71 L602.80,198.74 L603.91,198.77 L605.03,198.78 L606.15,198.79 L607.27,198.80 L608.39,198.79 L609.50,198.78 L610.62,198.77 L611.73,198.74 L612.85,198.71 L613.96,198.68 L615.07,198.64 L616.19,198.59 L617.30,198.53 L618.40,198.47 L619.51,198.41 L620.62,198.34 L621.73,198.26 L622.83,198.18 L623.94,198.10 L625.04,198.01 L626.15,197.92 L627.25,197.82 L628.35,197.72 L629.46,197.62 L630.56,197.51 L631.66,197.40 L632.76,197.29 L633.87,197.17 L634.97,197.06 L636.07,196.94 L637.17,196.82 L638.27,196.69 L639.38,196.57 L640.48,196.44 L641.58,196.31 L642.68,196.19 L643.79,196.06 L644.89,195.93 L645.99,195.80 L647.10,195.67 L648.20,195.54 L649.31,195.41 L650.42,195.28 L651.52,195.15 L652.63,195.02 L653.73,194.88 L654.84,194.73 L655.94,194.58 L657.05,194.42 L658.15,194.25 L659.25,194.07 L660.34,193.88 L661.44,193.68 L662.53,193.46 L663.62,193.22 L664.71,192.98 L665.79,192.71 L666.87,192.43 L667.94,192.13 L669.01,191.81 L670.08,191.47 L671.14,191.12 L672.20,190.75 L673.25,190.36 L674.29,189.96 L675.33,189.54 L676.36,189.10 L677.38,188.65 L678.39,188.17 L679.40,187.69 L680.40,187.18 L681.39,186.66 L682.37,186.13 L683.34,185.58 L684.30,185.01 L685.25,184.43 L686.19,183.83 L687.12,183.21 L688.04,182.58 L688.95,181.94 L689.84,181.28 L690.73,180.60 L691.60,179.91 L692.45,179.20 L693.30,178.48 L694.13,177.74 L694.94,176.99 L695.74,176.23 L696.53,175.45 L697.30,174.65 L698.06,173.85 L698.80,173.02 L699.52,172.19 L700.23,171.34 L700.91,170.47 L701.59,169.59 L702.24,168.70 L702.88,167.79 L703.50,166.87 L704.10,165.94 L704.68,165.00 L705.24,164.04 L705.79,163.07 L706.32,162.10 L706.83,161.11 L707.33,160.11 L707.80,159.10 L708.27,158.09 L708.71,157.06 L709.14,156.03 L709.56,155.00 L709.95,153.95 L710.34,152.90 L710.70,151.85 L711.05,150.79 L711.39,149.72 L711.71,148.65 L712.02,147.58 L712.32,146.51 L712.60,145.43 L712.87,144.35 L713.13,143.27 L713.39,142.19 L713.63,141.10 L713.87,140.01 L714.11,138.93 L714.34,137.84 L714.56,136.75 L714.79,135.66 L715.01,134.57 L715.23,133.48 L715.46,132.39 L715.68,131.30 L715.91,130.21 L716.13,129.12 L716.36,128.03 L716.58,126.94 L716.80,125.85 L717.01,124.76 L717.23,123.67 L717.44,122.58 L717.64,121.49 L717.85,120.39 L718.04,119.30 L718.24,118.21 L718.43,117.11 L718.61,116.02 L718.79,114.92 L718.97,113.83 L719.14,112.73 L719.31,111.63 L719.48,110.53 L719.64,109.43 L719.80,108.34 L719.96,107.24 L720.11,106.14 L720.26,105.03 L720.41,103.93 L720.55,102.83 L720.69,101.73 L720.83,100.63 L720.96,99.52 L721.09,98.42 L721.22,97.32 L721.35,96.21 L721.47,95.11 L721.59,94.00 L721.71,92.89 L721.83,91.79 L721.94,90.68 L722.06,89.58 L722.17,88.47 L722.27,87.36 L722.38,86.25 L722.48,85.15 L722.59,84.04 L722.69,82.93 L722.79,81.82 L722.89,80.71 L722.98,79.60 L723.08,78.49 L723.17,77.38 L723.26,76.27 L723.36,75.16 L723.45,74.05 L723.54,72.94 L723.62,71.83 L723.71,70.72 L723.80,69.61 L723.88,68.50 L723.97,67.39 L724.06,66.28 L724.14,65.17 L724.22,64.05 L724.31,62.94 L724.39,61.83 L724.48,60.72 L724.56,59.61 L724.64,58.50 L724.73,57.39 L724.81,56.28 L724.89,55.16 L724.98,54.05 L725.06,52.94 L725.15,51.83 L725.23,50.72 L725.32,49.61 L725.41,48.50 L725.50,47.39 L725.58,46.28 L725.67,45.17 L725.76,44.06 L725.86,42.95 L725.95,41.84 L726.04,40.73 L726.14,39.62 L726.24,38.51 L726.33,37.40 L726.43,36.29 L726.54,35.18 L726.64,34.08 L726.74,32.97 L726.85,31.86 L726.96,30.75 L727.07,29.65 L727.18,28.54 L727.30,27.43 L727.42,26.33 L727.54,25.22 L727.66,24.12 L727.78,23.01 L727.91,21.91 L728.04,20.80 L728.17,19.70 L728.31,18.60 L728.45,17.50 L728.59,16.39 L728.73,15.29 L728.88,14.19 L729.03,13.09 L729.18,11.99 L729.34,10.89 L729.50,9.79 L729.66,8.70 L729.83,7.60 L730.00,6.50" fill="none" stroke="#ff0000" stroke-width="2.3" stroke-dasharray="11.4 7.1" stroke-dashoffset="0"/>
</g>
<rect x="58.5" y="6.5" width="310.0" height="247.8" fill="none" stroke="#7f7f7f" stroke-width="0.65"/>
<rect x="432.5" y="6.5" width="309.1" height="247.8" fill="none" stroke="#7f7f7f" stroke-width="0.65"/>
<path d="M58.99,254.30L58.99,252.10M58.99,6.50L58.99,8.70M64.64,254.30L64.64,252.10M64.64,6.50L64.64,8.70M69.70,254.30L69.70,250.30M69.70,6.50L69.70,10.50M102.96,254.30L102.96,252.10M102.96,6.50L102.96,8.70M122.42,254.30L122.42,252.10M122.42,6.50L122.42,8.70M136.23,254.30L136.23,252.10M136.23,6.50L136.23,8.70M146.94,254.30L146.94,252.10M146.94,6.50L146.94,8.70M155.69,254.30L155.69,252.10M155.69,6.50L155.69,8.70M163.08,254.30L163.08,252.10M163.08,6.50L163.08,8.70M169.49,254.30L169.49,252.10M169.49,6.50L169.49,8.70M175.14,254.30L175.14,252.10M175.14,6.50L175.14,8.70M180.20,254.30L180.20,250.30M180.20,6.50L180.20,10.50M213.46,254.30L213.46,252.10M213.46,6.50L213.46,8.70M232.92,254.30L232.92,252.10M232.92,6.50L232.92,8.70M246.73,254.30L246.73,252.10M246.73,6.50L246.73,8.70M257.44,254.30L257.44,252.10M257.44,6.50L257.44,8.70M266.19,254.30L266.19,252.10M266.19,6.50L266.19,8.70M273.58,254.30L273.58,252.10M273.58,6.50L273.58,8.70M279.99,254.30L279.99,252.10M279.99,6.50L279.99,8.70M285.64,254.30L285.64,252.10M285.64,6.50L285.64,8.70M290.70,254.30L290.70,250.30M290.70,6.50L290.70,10.50M323.96,254.30L323.96,252.10M323.96,6.50L323.96,8.70M343.42,254.30L343.42,252.10M343.42,6.50L343.42,8.70M357.23,254.30L357.23,252.10M357.23,6.50L357.23,8.70M367.94,254.30L367.94,252.10M367.94,6.50L367.94,8.70M58.50,18.91L60.00,18.91M368.50,18.91L367.00,18.91M58.50,10.15L60.00,10.15M368.50,10.15L367.00,10.15M58.50,52.40L62.50,52.40M368.50,52.40L364.50,52.40M58.50,80.97L60.00,80.97M368.50,80.97L367.00,80.97M58.50,72.21L60.00,72.21M368.50,72.21L367.00,72.21M58.50,66.94L60.00,66.94M368.50,66.94L367.00,66.94M58.50,63.16L60.00,63.16M368.50,63.16L367.00,63.16M58.50,60.21L60.00,60.21M368.50,60.21L367.00,60.21M58.50,57.80L60.00,57.80M368.50,57.80L367.00,57.80M58.50,55.75L60.00,55.75M368.50,55.75L367.00,55.75M58.50,53.97L60.00,53.97M368.50,53.97L367.00,53.97M58.50,114.46L62.50,114.46M368.50,114.46L364.50,114.46M58.50,143.03L60.00,143.03M368.50,143.03L367.00,143.03M58.50,134.27L60.00,134.27M368.50,134.27L367.00,134.27M58.50,129.00L60.00,129.00M368.50,129.00L367.00,129.00M58.50,125.22L60.00,125.22M368.50,125.22L367.00,125.22M58.50,122.27L60.00,122.27M368.50,122.27L367.00,122.27M58.50,119.86L60.00,119.86M368.50,119.86L367.00,119.86M58.50,117.81L60.00,117.81M368.50,117.81L367.00,117.81M58.50,116.03L60.00,116.03M368.50,116.03L367.00,116.03M58.50,176.52L62.50,176.52M368.50,176.52L364.50,176.52M58.50,205.09L60.00,205.09M368.50,205.09L367.00,205.09M58.50,196.33L60.00,196.33M368.50,196.33L367.00,196.33M58.50,191.06L60.00,191.06M368.50,191.06L367.00,191.06M58.50,187.28L60.00,187.28M368.50,187.28L367.00,187.28M58.50,184.33L60.00,184.33M368.50,184.33L367.00,184.33M58.50,181.92L60.00,181.92M368.50,181.92L367.00,181.92M58.50,179.87L60.00,179.87M368.50,179.87L367.00,179.87M58.50,178.09L60.00,178.09M368.50,178.09L367.00,178.09M58.50,238.58L62.50,238.58M368.50,238.58L364.50,238.58M58.50,253.12L60.00,253.12M368.50,253.12L367.00,253.12M58.50,249.34L60.00,249.34M368.50,249.34L367.00,249.34M58.50,246.39L60.00,246.39M368.50,246.39L367.00,246.39M58.50,243.98L60.00,243.98M368.50,243.98L367.00,243.98M58.50,241.93L60.00,241.93M368.50,241.93L367.00,241.93M58.50,240.15L60.00,240.15M368.50,240.15L367.00,240.15M441.30,254.30L441.30,250.30M441.30,6.50L441.30,10.50M455.85,254.30L455.85,252.10M455.85,6.50L455.85,8.70M470.40,254.30L470.40,252.10M470.40,6.50L470.40,8.70M484.95,254.30L484.95,252.10M484.95,6.50L484.95,8.70M499.50,254.30L499.50,250.30M499.50,6.50L499.50,10.50M514.05,254.30L514.05,252.10M514.05,6.50L514.05,8.70M528.60,254.30L528.60,252.10M528.60,6.50L528.60,8.70M543.15,254.30L543.15,252.10M543.15,6.50L543.15,8.70M557.70,254.30L557.70,250.30M557.70,6.50L557.70,10.50M572.25,254.30L572.25,252.10M572.25,6.50L572.25,8.70M586.80,254.30L586.80,252.10M586.80,6.50L586.80,8.70M601.35,254.30L601.35,252.10M601.35,6.50L601.35,8.70M615.90,254.30L615.90,250.30M615.90,6.50L615.90,10.50M630.45,254.30L630.45,252.10M630.45,6.50L630.45,8.70M645.00,254.30L645.00,252.10M645.00,6.50L645.00,8.70M659.55,254.30L659.55,252.10M659.55,6.50L659.55,8.70M674.10,254.30L674.10,250.30M674.10,6.50L674.10,10.50M688.65,254.30L688.65,252.10M688.65,6.50L688.65,8.70M703.20,254.30L703.20,252.10M703.20,6.50L703.20,8.70M717.75,254.30L717.75,252.10M717.75,6.50L717.75,8.70M732.30,254.30L732.30,250.30M732.30,6.50L732.30,10.50M432.50,253.69L434.70,253.69M741.60,253.69L739.40,253.69M432.50,242.21L434.70,242.21M741.60,242.21L739.40,242.21M432.50,230.73L436.50,230.73M741.60,230.73L737.60,230.73M432.50,219.24L434.70,219.24M741.60,219.24L739.40,219.24M432.50,207.75L434.70,207.75M741.60,207.75L739.40,207.75M432.50,196.27L434.70,196.27M741.60,196.27L739.40,196.27M432.50,184.78L434.70,184.78M741.60,184.78L739.40,184.78M432.50,173.30L436.50,173.30M741.60,173.30L737.60,173.30M432.50,161.81L434.70,161.81M741.60,161.81L739.40,161.81M432.50,150.33L434.70,150.33M741.60,150.33L739.40,150.33M432.50,138.84L434.70,138.84M741.60,138.84L739.40,138.84M432.50,127.36L434.70,127.36M741.60,127.36L739.40,127.36M432.50,115.88L436.50,115.88M741.60,115.88L737.60,115.88M432.50,104.39L434.70,104.39M741.60,104.39L739.40,104.39M432.50,92.91L434.70,92.91M741.60,92.91L739.40,92.91M432.50,81.42L434.70,81.42M741.60,81.42L739.40,81.42M432.50,69.94L434.70,69.94M741.60,69.94L739.40,69.94M432.50,58.45L436.50,58.45M741.60,58.45L737.60,58.45M432.50,46.97L434.70,46.97M741.60,46.97L739.40,46.97M432.50,35.48L434.70,35.48M741.60,35.48L739.40,35.48M432.50,23.99L434.70,23.99M741.60,23.99L739.40,23.99M432.50,12.51L434.70,12.51M741.60,12.51L739.40,12.51" stroke="#7f7f7f" stroke-width="0.65" fill="none"/>
<line x1="256.0" y1="199.0" x2="298.5" y2="199.0" stroke="#767676" stroke-width="1.5"/>
<line x1="255.9" y1="218.9" x2="296" y2="218.9" stroke="#000" stroke-width="1.6" stroke-dasharray="3 2.5 5.9 2.5"/>
<line x1="255.9" y1="238.8" x2="296" y2="238.8" stroke="#000" stroke-width="1.6" stroke-dasharray="2.6 2.8"/>
<line x1="64" y1="233.9" x2="106.8" y2="233.9" stroke="#ff0000" stroke-width="1.5"/>
<line x1="439.3" y1="63.4" x2="481.8" y2="63.4" stroke="#767676" stroke-width="1.45"/>
<line x1="439.3" y1="84.6" x2="479.5" y2="84.6" stroke="#000" stroke-width="1.6" stroke-dasharray="3 2.5 5.9 2.5"/>
<line x1="439.3" y1="105.7" x2="479.6" y2="105.7" stroke="#000" stroke-width="1.6" stroke-dasharray="2.6 2.8"/>
<line x1="439.3" y1="127.0" x2="479.6" y2="127.0" stroke="#ff0000" stroke-width="1.7" stroke-dasharray="5.9 2.7"/>
<g opacity="0.999" font-family="'Liberation Serif', serif" font-size="13.6" fill="#000">
<text x="69.3" y="269.6" text-anchor="middle" >0.001</text>
<text x="179.8" y="269.6" text-anchor="middle" >0.01</text>
<text x="290.3" y="269.6" text-anchor="middle" >0.1</text>
<text x="55.6" y="57.0" text-anchor="end" >10</text>
<text x="55.0" y="119.1" text-anchor="end" >0.1</text>
<text x="55.0" y="181.1" text-anchor="end" >0.001</text>
<text x="30.64" y="244.70">10</text>
<text x="44.02" y="238.70" font-size="9.7">−</text>
<text x="49.72" y="238.70" font-size="9.7">5</text>
<text x="179.79" y="289.30" font-style="italic">k</text>
<text x="189.88" y="289.30">[</text>
<text x="193.32" y="289.30" font-style="italic">h</text>
<text x="204.39" y="289.30">Mpc</text>
<text x="230.81" y="284.10" font-size="9.7">−</text>
<text x="237.08" y="284.10" font-size="9.7">1</text>
<text x="242.22" y="289.30">]</text>
<text x="94.29" y="29.70">Matter</text>
<text x="135.00" y="29.70">bispectrum,</text>
<text x="202.86" y="29.70" font-style="italic">B</text>
<text x="211.19" y="29.70">(</text>
<text x="215.19" y="29.70" font-style="italic">k</text>
<text x="221.46" y="29.70">,</text>
<text x="229.29" y="29.70" font-style="italic">k</text>
<text x="236.40" y="32.10" font-style="italic" font-size="9.7">s</text>
<text x="240.06" y="29.70">,</text>
<text x="246.39" y="29.70" font-style="italic">k</text>
<text x="255.90" y="32.10" font-style="italic" font-size="9.7">s</text>
<text x="259.59" y="29.70">)</text>
<text x="263.46" y="29.70">,</text>
<text x="270.59" y="29.70" font-style="italic">k</text>
<text x="277.60" y="32.10" font-style="italic" font-size="9.7">s</text>
<path d="M285.20,25.10h7.8M285.20,27.90h7.8" stroke="#1a1a1a" stroke-width="0.85" fill="none"/>
<text x="296.64" y="29.70">1</text>
<text x="307.32" y="29.70" font-style="italic">h</text>
<text x="317.99" y="29.70">Mpc</text>
<text x="343.91" y="24.50" font-size="9.7">−</text>
<text x="349.68" y="24.50" font-size="9.7">1</text>
<text x="305.16" y="203.60">Gravity</text>
<text x="305.49" y="224.60">Local NG</text>
<text x="305.49" y="242.80">Eq. NG</text>
<text x="113.26" y="239.40">QSF,</text>
<text x="146.20" y="239.40" font-style="italic">ν</text>
<path d="M156.70,234.80h7.8M156.70,237.60h7.8" stroke="#1a1a1a" stroke-width="0.85" fill="none"/>
<text x="168.06" y="239.40">0,</text>
<text x="182.16" y="239.40">0.5,</text>
<text x="207.34" y="239.40">1,</text>
<text x="220.64" y="239.40">1.5</text>
<g transform="translate(19.6,159.6) rotate(-90)">
<text x="-0.14" y="0.00" font-style="italic">B</text>
<text x="8.19" y="0.00">(</text>
<text x="12.19" y="0.00" font-style="italic">k</text>
<text x="18.46" y="0.00">,</text>
<text x="25.59" y="0.00" font-style="italic">k</text>
<text x="32.70" y="2.40" font-style="italic" font-size="9.7">s</text>
<text x="36.36" y="0.00">,</text>
<text x="42.99" y="0.00" font-style="italic">k</text>
<text x="50.10" y="2.40" font-style="italic" font-size="9.7">s</text>
<text x="54.19" y="0.00">)</text>
</g>
<text x="441.3" y="269.6" text-anchor="middle" >0.0</text>
<text x="499.5" y="269.6" text-anchor="middle" >0.2</text>
<text x="557.7" y="269.6" text-anchor="middle" >0.4</text>
<text x="615.9" y="269.6" text-anchor="middle" >0.6</text>
<text x="674.1" y="269.6" text-anchor="middle" >0.8</text>
<text x="732.3" y="269.6" text-anchor="middle" >1.0</text>
<text x="429.6" y="236.3" text-anchor="end" >0.5</text>
<text x="429.6" y="178.9" text-anchor="end" >1.0</text>
<text x="429.6" y="121.5" text-anchor="end" >1.5</text>
<text x="429.6" y="64.1" text-anchor="end" >2.0</text>
<text x="577.22" y="288.40" font-style="italic">θ</text>
<text x="584.60" y="288.40">/</text>
<text x="588.83" y="288.40" font-style="italic">π</text>
<g transform="translate(402.0,159.6) rotate(-90)">
<text x="-0.75" y="0.00" font-style="italic">Q</text>
<text x="9.19" y="0.00">(</text>
<text x="13.09" y="0.00" font-style="italic">k</text>
<text x="20.38" y="2.40" font-size="9.7">1</text>
<text x="24.46" y="0.00">,</text>
<text x="32.79" y="0.00" font-style="italic">k</text>
<text x="39.56" y="2.40" font-size="9.7">2</text>
<text x="44.06" y="0.00">,</text>
<text x="51.32" y="0.00" font-style="italic">θ</text>
<text x="56.39" y="0.00">)</text>
</g>
<text x="445.79" y="29.80">Matter</text>
<text x="486.36" y="29.80" font-style="italic">reduced</text>
<text x="535.60" y="29.80">bispectrum,</text>
<text x="603.25" y="29.80" font-style="italic">Q</text>
<text x="613.19" y="29.80">(</text>
<text x="617.09" y="29.80" font-style="italic">k</text>
<text x="624.38" y="32.20" font-size="9.7">1</text>
<text x="628.46" y="29.80">,</text>
<text x="636.79" y="29.80" font-style="italic">k</text>
<text x="643.56" y="32.20" font-size="9.7">2</text>
<text x="648.06" y="29.80">,</text>
<text x="655.32" y="29.80" font-style="italic">θ</text>
<text x="662.59" y="29.80">)</text>
<text x="445.59" y="50.20" font-style="italic">k</text>
<text x="452.88" y="52.60" font-size="9.7">1</text>
<path d="M461.00,45.60h7.8M461.00,48.40h7.8" stroke="#1a1a1a" stroke-width="0.85" fill="none"/>
<text x="473.16" y="50.20">0.01</text>
<text x="501.32" y="50.20" font-style="italic">h</text>
<text x="508.71" y="45.00" font-size="9.7">−</text>
<text x="514.08" y="45.00" font-size="9.7">1</text>
<text x="518.29" y="50.20">Mpc</text>
<text x="543.46" y="50.20">,</text>
<text x="551.79" y="50.20" font-style="italic">k</text>
<text x="558.76" y="52.60" font-size="9.7">2</text>
<path d="M567.50,45.60h7.8M567.50,48.40h7.8" stroke="#1a1a1a" stroke-width="0.85" fill="none"/>
<text x="579.74" y="50.20">1.1</text>
<text x="596.39" y="50.20" font-style="italic">k</text>
<text x="603.48" y="52.60" font-size="9.7">1</text>
<text x="488.86" y="67.40">Gravity</text>
<text x="488.86" y="88.80">Gravity</text>
<path d="M535.30,85.00h7.5M539.05,81.25v7.5" stroke="#1a1a1a" stroke-width="0.85" fill="none"/>
<text x="547.09" y="88.80">Local NG</text>
<text x="488.86" y="109.60">Gravity</text>
<path d="M535.30,105.80h7.5M539.05,102.05v7.5" stroke="#1a1a1a" stroke-width="0.85" fill="none"/>
<text x="547.09" y="109.60">Eq. NG</text>
<text x="488.86" y="130.70">Gravity</text>
<path d="M535.20,126.90h7.5M538.95,123.15v7.5" stroke="#1a1a1a" stroke-width="0.85" fill="none"/>
<text x="546.66" y="130.70">QSF,</text>
<text x="579.40" y="130.70" font-style="italic">ν</text>
<path d="M589.90,126.10h7.8M589.90,128.90h7.8" stroke="#1a1a1a" stroke-width="0.85" fill="none"/>
<text x="601.36" y="130.70">0,</text>
<text x="615.46" y="130.70">0.5,</text>
<text x="640.64" y="130.70">1,</text>
<text x="653.74" y="130.70">1.5</text>
</g>
</svg>
</body></html>
